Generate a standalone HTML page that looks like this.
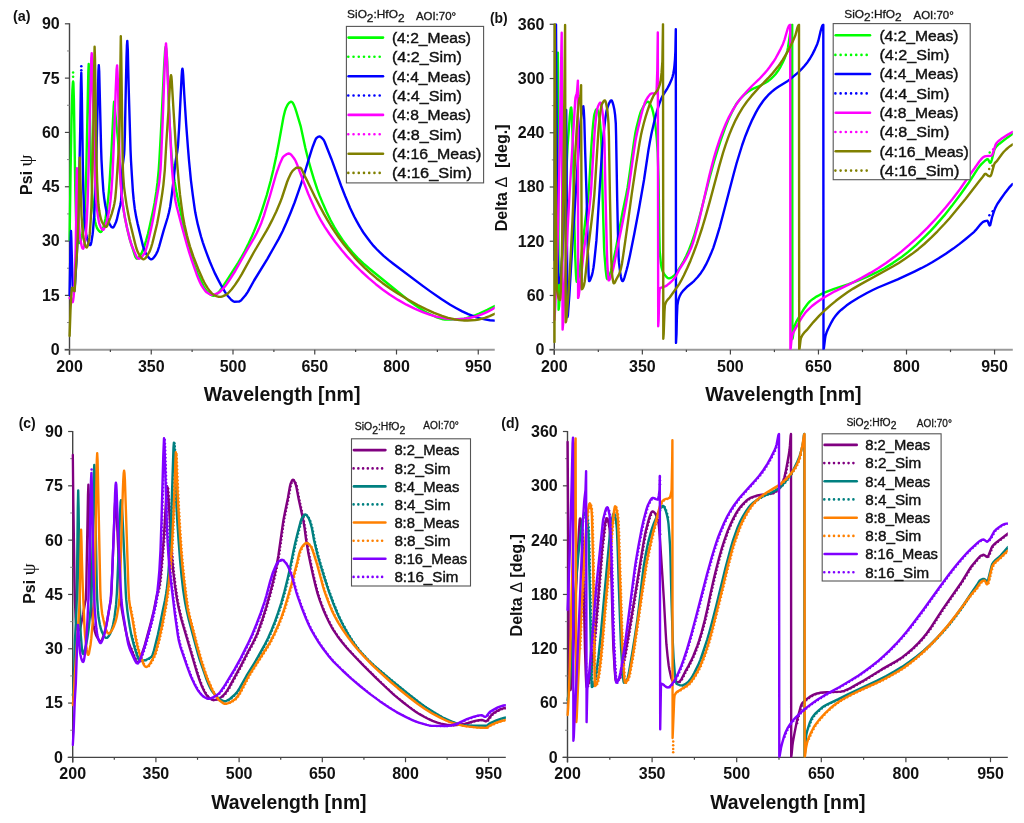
<!DOCTYPE html>
<html><head><meta charset="utf-8"><style>
html,body{margin:0;padding:0;background:#fff;}
svg{display:block;will-change:transform;}
text{font-family:"Liberation Sans", sans-serif;fill:#111;}
</style></head><body>
<svg width="1024" height="823" viewBox="0 0 1024 823">
<rect width="1024" height="823" fill="#fff"/>
<line x1="69.5" y1="23.3" x2="69.5" y2="354.7" stroke="#444" stroke-width="1.4"/>
<line x1="64.5" y1="349.7" x2="494.75" y2="349.7" stroke="#9a9a9a" stroke-width="2.0"/>
<line x1="64.9" y1="349.70" x2="69.5" y2="349.70" stroke="#444" stroke-width="1.2"/>
<line x1="67.0" y1="322.54" x2="69.5" y2="322.54" stroke="#888" stroke-width="1"/>
<text x="59.70" y="355.10" font-size="16" font-weight="bold" text-anchor="end" >0</text>
<line x1="64.9" y1="295.38" x2="69.5" y2="295.38" stroke="#444" stroke-width="1.2"/>
<line x1="67.0" y1="268.23" x2="69.5" y2="268.23" stroke="#888" stroke-width="1"/>
<text x="59.70" y="300.78" font-size="16" font-weight="bold" text-anchor="end" >15</text>
<line x1="64.9" y1="241.07" x2="69.5" y2="241.07" stroke="#444" stroke-width="1.2"/>
<line x1="67.0" y1="213.91" x2="69.5" y2="213.91" stroke="#888" stroke-width="1"/>
<text x="59.70" y="246.47" font-size="16" font-weight="bold" text-anchor="end" >30</text>
<line x1="64.9" y1="186.75" x2="69.5" y2="186.75" stroke="#444" stroke-width="1.2"/>
<line x1="67.0" y1="159.59" x2="69.5" y2="159.59" stroke="#888" stroke-width="1"/>
<text x="59.70" y="192.15" font-size="16" font-weight="bold" text-anchor="end" >45</text>
<line x1="64.9" y1="132.43" x2="69.5" y2="132.43" stroke="#444" stroke-width="1.2"/>
<line x1="67.0" y1="105.27" x2="69.5" y2="105.27" stroke="#888" stroke-width="1"/>
<text x="59.70" y="137.83" font-size="16" font-weight="bold" text-anchor="end" >60</text>
<line x1="64.9" y1="78.12" x2="69.5" y2="78.12" stroke="#444" stroke-width="1.2"/>
<line x1="67.0" y1="50.96" x2="69.5" y2="50.96" stroke="#888" stroke-width="1"/>
<text x="59.70" y="83.52" font-size="16" font-weight="bold" text-anchor="end" >75</text>
<line x1="64.9" y1="23.80" x2="69.5" y2="23.80" stroke="#444" stroke-width="1.2"/>
<text x="59.70" y="29.20" font-size="16" font-weight="bold" text-anchor="end" >90</text>
<line x1="69.50" y1="349.7" x2="69.50" y2="354.5" stroke="#444" stroke-width="1.2"/>
<text x="69.50" y="371.60" font-size="16" font-weight="bold" text-anchor="middle" >200</text>
<line x1="110.38" y1="349.7" x2="110.38" y2="352.09999999999997" stroke="#444" stroke-width="1.2"/>
<line x1="151.25" y1="349.7" x2="151.25" y2="354.5" stroke="#444" stroke-width="1.2"/>
<text x="151.25" y="371.60" font-size="16" font-weight="bold" text-anchor="middle" >350</text>
<line x1="192.12" y1="349.7" x2="192.12" y2="352.09999999999997" stroke="#444" stroke-width="1.2"/>
<line x1="233.00" y1="349.7" x2="233.00" y2="354.5" stroke="#444" stroke-width="1.2"/>
<text x="233.00" y="371.60" font-size="16" font-weight="bold" text-anchor="middle" >500</text>
<line x1="273.88" y1="349.7" x2="273.88" y2="352.09999999999997" stroke="#444" stroke-width="1.2"/>
<line x1="314.75" y1="349.7" x2="314.75" y2="354.5" stroke="#444" stroke-width="1.2"/>
<text x="314.75" y="371.60" font-size="16" font-weight="bold" text-anchor="middle" >650</text>
<line x1="355.62" y1="349.7" x2="355.62" y2="352.09999999999997" stroke="#444" stroke-width="1.2"/>
<line x1="396.50" y1="349.7" x2="396.50" y2="354.5" stroke="#444" stroke-width="1.2"/>
<text x="396.50" y="371.60" font-size="16" font-weight="bold" text-anchor="middle" >800</text>
<line x1="437.38" y1="349.7" x2="437.38" y2="352.09999999999997" stroke="#444" stroke-width="1.2"/>
<line x1="478.25" y1="349.7" x2="478.25" y2="354.5" stroke="#444" stroke-width="1.2"/>
<text x="478.25" y="371.60" font-size="16" font-weight="bold" text-anchor="middle" >950</text>
<clipPath id="clipa"><rect x="68.0" y="22.8" width="426.75" height="326.9"/></clipPath>
<g clip-path="url(#clipa)">
<path d="M69.6,240.0 L70.6,170.0 L71.5,120.0 L72.0,102.6 L72.4,90.0 L72.9,82.5 L73.1,81.5 L73.4,83.0 L73.9,100.0 L75.3,190.0 L76.0,217.3 L76.4,226.7 L76.8,232.0 L77.9,239.2 L78.6,242.0 L78.9,242.7 L79.3,243.0 L79.7,242.8 L80.1,242.2 L80.5,241.4 L81.2,239.0 L82.0,236.0 L82.7,232.3 L83.8,223.3 L84.5,215.0 L84.9,209.2 L85.6,192.1 L86.3,170.0 L88.3,72.4 L88.7,64.0 L89.1,72.5 L90.8,158.4 L91.6,179.3 L92.3,195.0 L93.1,206.2 L93.5,210.0 L94.5,217.7 L95.2,221.8 L96.0,225.0 L96.7,227.2 L97.0,228.0 L98.1,229.8 L99.2,231.2 L99.9,231.8 L100.6,232.0 L101.0,231.9 L101.7,231.1 L102.4,229.7 L103.5,227.0 L104.2,224.5 L105.4,218.9 L106.9,209.6 L108.3,197.6 L109.0,190.0 L109.7,180.6 L111.5,150.0 L113.7,106.4 L114.1,101.7 L114.5,103.6 L115.2,112.0 L118.0,140.0 L120.2,175.0 L121.9,196.5 L123.0,206.1 L124.9,217.6 L127.5,229.9 L129.6,238.6 L131.4,244.7 L134.7,254.9 L135.4,256.9 L136.2,258.2 L136.5,258.6 L136.9,258.7 L137.6,258.5 L138.3,257.9 L139.1,257.0 L140.8,254.5 L141.6,253.2 L142.6,250.8 L143.7,248.1 L146.1,240.6 L147.9,234.1 L149.6,226.7 L152.8,212.0 L154.6,202.9 L156.3,191.9 L157.5,182.4 L158.7,170.0 L159.4,159.5 L160.9,132.5 L164.1,66.6 L165.2,49.2 L165.6,47.0 L166.0,48.2 L166.4,51.1 L166.8,55.0 L167.2,61.0 L169.6,121.4 L170.4,136.2 L171.4,152.5 L172.5,165.0 L173.6,174.1 L174.6,181.5 L176.4,192.0 L177.5,197.5 L180.0,209.0 L182.9,223.3 L184.4,229.7 L186.8,239.6 L188.9,247.6 L191.0,254.9 L192.8,260.5 L195.3,267.5 L197.8,273.7 L200.3,279.3 L203.8,286.5 L205.2,289.0 L206.3,290.5 L208.4,292.7 L210.2,294.3 L211.7,295.3 L212.8,295.7 L213.9,295.7 L214.6,295.5 L215.7,294.8 L217.2,293.6 L219.4,291.4 L220.8,289.6 L228.2,278.3 L233.9,269.5 L238.1,262.8 L241.6,256.9 L244.7,251.2 L247.9,244.9 L251.1,238.1 L253.9,231.6 L258.9,219.2 L262.4,208.9 L266.8,195.0 L270.6,181.0 L273.4,169.5 L276.3,156.0 L278.9,142.4 L282.8,120.7 L283.5,117.0 L284.9,111.2 L286.0,108.0 L287.1,105.7 L287.8,104.4 L288.5,103.5 L289.6,102.4 L290.4,101.9 L291.1,101.7 L291.5,101.8 L292.2,102.2 L292.9,103.1 L293.6,104.3 L295.0,107.6 L296.4,111.8 L300.8,126.7 L305.3,147.7 L308.2,159.5 L311.1,169.9 L313.9,179.2 L317.2,189.2 L319.5,195.4 L323.1,204.1 L326.7,212.2 L330.6,220.3 L334.2,226.9 L338.2,233.5 L342.9,240.4 L347.9,247.0 L352.6,252.6 L357.5,257.9 L363.6,263.6 L369.2,268.5 L381.5,278.5 L403.4,296.3 L408.9,300.7 L418.6,307.6 L424.3,311.3 L427.1,312.8 L433.9,316.0 L436.8,317.3 L439.3,318.2 L441.4,318.9 L443.2,319.3 L445.0,319.5 L446.8,319.6 L451.7,319.5 L457.0,319.2 L464.0,318.6 L466.4,318.2 L470.3,317.0 L475.6,315.0 L479.2,313.5 L487.3,309.8 L494.7,306.0" fill="none" stroke="#00ff00" stroke-width="2.4" stroke-linejoin="round" stroke-linecap="round"/>
<path d="M69.6,295.0 L70.3,255.0 L70.7,239.2 L71.0,231.0 L71.3,237.7 L72.6,285.0 L73.3,290.1 L73.7,291.5 L74.0,292.0 L74.4,290.7 L75.1,282.6 L76.5,260.1 L77.7,235.9 L78.8,200.0 L80.2,130.0 L80.9,83.5 L81.3,72.8 L81.8,94.1 L82.8,163.3 L83.3,190.0 L84.2,212.3 L84.6,219.8 L85.0,225.0 L85.7,231.1 L86.4,235.6 L87.1,238.8 L88.3,242.2 L89.1,243.9 L89.5,244.5 L89.9,245.0 L90.3,245.1 L90.7,244.7 L91.0,243.6 L91.4,241.9 L92.5,235.0 L92.9,231.8 L94.1,216.6 L94.9,202.8 L96.3,160.0 L98.1,85.0 L98.4,71.2 L98.8,65.1 L99.2,71.4 L101.1,148.2 L101.5,160.0 L102.3,175.1 L103.4,191.2 L104.2,198.1 L105.3,205.5 L107.6,217.1 L108.7,222.0 L109.5,224.0 L110.6,225.7 L111.3,226.7 L112.1,227.3 L112.4,227.4 L112.8,227.5 L113.2,227.4 L113.5,227.1 L114.2,226.1 L114.9,224.6 L116.0,222.0 L116.8,219.7 L119.0,210.0 L120.3,205.4 L120.7,203.3 L121.1,200.4 L121.5,192.4 L122.3,170.0 L122.7,165.7 L124.1,154.4 L124.4,149.5 L124.9,134.0 L125.8,88.3 L126.5,57.7 L126.9,45.7 L127.3,40.9 L127.8,49.7 L128.7,88.3 L130.5,149.5 L131.0,160.8 L131.9,175.8 L132.9,191.4 L133.7,199.9 L134.8,208.9 L136.2,217.1 L137.6,223.6 L142.9,245.6 L144.0,249.2 L145.0,251.9 L147.5,256.0 L148.6,257.4 L149.6,258.5 L150.7,259.2 L151.4,259.3 L152.1,259.1 L153.2,258.3 L154.6,256.6 L156.3,253.8 L157.0,252.4 L157.8,250.7 L159.2,246.3 L163.6,230.7 L167.5,218.0 L169.0,212.3 L170.1,207.0 L170.8,202.3 L171.9,194.0 L173.7,179.0 L175.4,162.7 L176.2,157.8 L177.2,152.1 L178.0,145.7 L179.1,127.8 L181.6,76.6 L182.0,70.8 L182.4,68.6 L182.8,70.4 L183.2,75.2 L184.3,95.0 L186.2,124.6 L187.9,147.1 L189.1,161.5 L190.9,180.1 L192.8,195.2 L194.6,208.2 L195.3,212.6 L196.4,218.1 L197.8,224.4 L199.6,231.4 L201.0,236.5 L202.8,242.3 L204.6,247.6 L206.7,253.4 L209.9,261.7 L212.4,267.6 L215.2,273.9 L218.1,279.6 L220.9,284.9 L224.8,291.7 L226.2,293.9 L227.6,295.8 L230.8,299.3 L232.2,300.6 L233.3,301.3 L234.3,301.7 L237.9,301.6 L239.0,301.5 L239.7,301.3 L240.5,300.8 L241.6,299.8 L245.3,295.5 L247.8,291.8 L254.1,280.5 L267.4,258.8 L274.4,246.5 L278.7,238.9 L282.6,231.2 L286.4,222.8 L290.6,212.7 L294.6,202.5 L297.8,193.4 L301.1,183.8 L304.9,172.0 L309.0,158.4 L311.5,150.4 L312.9,146.2 L315.1,140.5 L315.8,139.0 L316.5,138.0 L318.0,136.9 L318.8,136.6 L319.5,136.5 L319.9,136.5 L320.6,136.9 L322.2,138.2 L323.7,140.0 L324.7,142.0 L331.5,159.2 L341.0,185.5 L345.0,195.8 L350.0,207.8 L354.3,216.7 L356.8,221.4 L359.3,225.8 L361.8,230.0 L363.9,233.3 L367.2,237.8 L370.4,242.0 L373.6,245.9 L376.5,249.0 L379.7,252.2 L383.6,255.8 L389.0,260.4 L393.3,263.7 L422.7,285.9 L431.0,291.9 L441.3,299.1 L450.2,304.8 L455.9,308.0 L462.2,311.4 L468.2,314.1 L473.4,316.2 L479.3,318.1 L484.8,319.4 L490.0,320.2 L494.7,320.6" fill="none" stroke="#0000ff" stroke-width="2.4" stroke-linejoin="round" stroke-linecap="round"/>
<path d="M69.6,298.0 L70.3,298.4 L71.0,299.0 L71.4,299.7 L72.3,301.8 L72.7,302.2 L73.1,300.7 L73.6,296.9 L74.0,292.0 L74.4,285.0 L75.3,262.0 L75.7,246.9 L76.1,225.0 L76.5,185.0 L76.9,168.2 L77.4,178.0 L78.3,212.0 L79.2,227.8 L79.6,233.3 L80.0,237.0 L80.8,241.6 L81.5,245.3 L82.2,247.8 L82.6,248.5 L83.0,248.7 L83.4,248.4 L83.7,247.6 L84.4,244.6 L85.5,238.0 L85.9,234.7 L86.9,217.5 L87.7,200.3 L88.8,160.0 L91.0,69.8 L91.3,57.9 L91.7,53.1 L92.2,61.4 L94.2,147.3 L94.5,160.0 L95.3,181.4 L96.1,197.6 L96.5,203.0 L97.2,210.5 L98.0,216.6 L98.8,221.1 L99.1,222.8 L99.5,224.0 L100.5,226.7 L101.2,228.2 L102.0,229.2 L102.7,229.8 L103.0,229.9 L103.4,229.8 L104.1,228.8 L104.8,227.2 L106.5,221.9 L108.0,216.6 L109.4,209.2 L110.4,201.4 L111.5,189.8 L112.6,173.2 L114.2,135.0 L115.7,90.0 L116.6,69.5 L117.1,65.4 L117.5,71.9 L118.0,85.0 L119.5,157.2 L119.9,170.0 L120.7,184.0 L121.1,189.1 L121.9,197.0 L123.4,208.8 L124.9,217.8 L127.1,228.3 L129.6,238.3 L131.0,243.1 L132.1,246.3 L135.8,255.1 L136.9,257.1 L137.6,258.1 L138.3,258.6 L139.1,258.7 L140.2,258.2 L141.3,257.4 L142.7,255.8 L144.2,253.8 L144.9,252.5 L145.6,250.8 L147.1,246.0 L149.2,237.0 L151.8,225.5 L153.2,218.6 L158.2,189.3 L159.4,181.3 L160.5,170.0 L161.0,161.0 L162.7,120.6 L164.6,68.7 L165.5,49.2 L166.0,43.4 L166.5,49.2 L167.4,68.9 L168.9,107.9 L171.7,164.1 L172.1,170.0 L173.2,183.0 L173.9,190.0 L175.0,198.0 L175.7,202.0 L176.8,207.0 L181.8,226.3 L187.1,245.4 L189.2,252.4 L191.3,259.0 L196.6,274.2 L198.4,278.7 L199.8,282.0 L201.5,285.4 L203.4,288.4 L205.2,290.9 L206.6,292.3 L208.5,293.5 L209.9,294.3 L211.0,294.7 L212.1,294.9 L213.6,294.7 L215.4,294.2 L217.9,293.2 L219.3,292.3 L220.8,291.0 L222.2,289.6 L224.7,286.7 L226.2,284.9 L229.8,279.5 L235.2,271.0 L246.5,250.9 L254.3,237.6 L256.8,233.0 L258.9,228.6 L261.4,222.7 L263.9,215.6 L270.2,195.0 L275.6,176.0 L277.0,171.6 L280.2,162.9 L282.0,158.9 L282.7,157.6 L283.4,156.7 L284.9,155.4 L286.3,154.4 L287.7,153.7 L288.8,153.5 L289.5,153.6 L290.2,154.0 L291.6,155.2 L293.4,157.5 L294.8,159.5 L295.5,160.8 L297.0,164.2 L299.6,171.3 L308.2,193.7 L310.8,199.7 L314.3,207.6 L317.5,214.2 L320.7,220.1 L324.9,227.1 L329.5,234.0 L335.1,241.7 L341.8,250.3 L347.2,256.6 L354.3,264.3 L361.5,271.5 L368.7,278.2 L375.8,284.2 L382.9,289.7 L389.6,294.5 L398.1,299.9 L406.5,304.7 L414.6,308.7 L422.7,312.2 L429.6,314.7 L436.2,316.6 L443.9,318.2 L450.9,319.0 L455.9,319.2 L459.7,319.1 L464.7,318.7 L469.2,318.0 L476.0,316.4 L481.7,314.4 L485.2,312.9 L488.4,311.4 L491.5,309.7 L494.7,307.8" fill="none" stroke="#ff00ff" stroke-width="2.4" stroke-linejoin="round" stroke-linecap="round"/>
<path d="M69.6,336.0 L70.5,310.0 L71.3,294.9 L71.7,289.6 L72.1,287.6 L72.5,287.8 L73.2,289.0 L74.1,290.8 L74.5,291.2 L74.9,287.2 L75.8,270.0 L76.9,253.6 L77.7,237.5 L78.5,215.0 L79.7,157.6 L81.5,215.0 L82.3,227.3 L83.1,235.5 L83.9,239.9 L85.0,244.7 L85.8,246.7 L86.2,247.3 L86.6,247.5 L87.0,247.2 L87.4,246.5 L87.8,245.3 L88.6,242.0 L89.4,237.2 L89.8,233.2 L90.6,221.9 L91.4,206.9 L92.5,170.0 L93.6,110.0 L94.1,71.1 L94.6,46.8 L95.0,58.6 L96.4,154.0 L96.8,170.0 L97.2,182.2 L98.1,200.0 L98.5,205.0 L99.2,210.3 L99.9,214.6 L101.0,219.2 L102.0,222.0 L103.9,225.2 L104.6,226.1 L105.4,226.7 L106.1,226.9 L106.5,226.8 L106.9,226.3 L107.6,224.9 L110.2,218.1 L111.8,213.6 L113.6,207.1 L114.3,204.0 L115.0,200.0 L115.4,196.8 L116.2,187.7 L118.5,153.1 L119.2,136.7 L119.6,125.0 L120.8,36.3 L121.2,52.3 L122.6,153.8 L122.9,170.0 L123.3,176.8 L124.0,186.6 L125.2,195.6 L126.6,205.1 L128.1,213.3 L129.8,221.7 L134.9,242.7 L136.3,248.0 L137.7,251.9 L139.5,255.2 L140.6,256.9 L141.7,258.3 L142.4,258.9 L143.1,259.3 L143.5,259.3 L144.2,259.1 L145.0,258.6 L146.1,257.4 L147.5,255.2 L149.4,251.9 L150.1,250.3 L151.2,247.2 L152.3,243.5 L153.7,237.9 L157.1,223.7 L158.9,214.2 L160.8,202.9 L162.3,193.1 L163.4,184.8 L164.8,170.0 L166.3,143.3 L168.5,110.0 L169.9,85.1 L170.6,76.5 L171.0,75.2 L171.4,76.5 L171.7,80.0 L173.5,110.0 L175.7,144.3 L177.2,164.0 L179.2,186.9 L180.0,194.7 L181.5,206.2 L182.9,216.1 L184.4,224.3 L186.9,235.3 L188.3,240.6 L190.0,246.6 L191.8,252.0 L193.5,256.9 L198.1,268.7 L202.4,278.6 L204.2,282.2 L206.0,285.5 L207.8,288.4 L209.2,290.3 L211.4,292.9 L212.9,294.3 L214.0,295.0 L215.8,295.8 L217.2,296.4 L218.7,296.7 L219.7,296.9 L220.8,296.8 L221.9,296.6 L223.1,296.2 L226.4,294.6 L228.1,293.2 L231.7,289.3 L235.0,284.9 L238.6,279.5 L241.8,274.2 L253.7,252.5 L266.3,231.1 L268.8,226.6 L272.0,220.4 L276.3,211.5 L280.2,202.3 L282.0,197.5 L287.1,182.0 L288.5,178.5 L291.1,173.1 L292.6,170.9 L294.5,169.1 L295.7,168.2 L296.8,167.7 L300.0,167.7 L300.4,167.8 L300.8,168.1 L301.1,168.5 L301.9,169.7 L304.5,175.6 L307.5,181.4 L314.9,196.8 L319.6,205.9 L323.9,213.9 L327.5,220.1 L331.0,226.0 L335.0,232.1 L338.9,237.7 L343.9,244.5 L349.0,250.8 L354.3,257.1 L359.7,262.9 L364.7,267.8 L370.7,273.4 L376.4,278.2 L382.4,282.9 L390.1,288.4 L398.2,293.7 L407.9,299.5 L417.7,305.0 L426.4,309.4 L434.1,312.9 L442.0,315.9 L448.1,317.8 L454.1,319.2 L459.4,320.1 L462.2,320.4 L464.3,320.5 L467.6,320.5 L475.1,320.0 L478.6,319.5 L482.2,318.7 L484.8,317.9 L489.6,316.2 L494.7,313.8" fill="none" stroke="#808000" stroke-width="2.4" stroke-linejoin="round" stroke-linecap="round"/>
<circle cx="73.1" cy="72.4" r="1.25" fill="#00ff00"/>
<circle cx="73.1" cy="76.8" r="1.25" fill="#00ff00"/>
<circle cx="81.3" cy="66.3" r="1.25" fill="#0000ff"/>
<circle cx="81.3" cy="70.3" r="1.25" fill="#0000ff"/>
</g>
<line x1="554.3" y1="23.8" x2="554.3" y2="354.7" stroke="#444" stroke-width="1.4"/>
<line x1="549.3" y1="349.7" x2="1012.8" y2="349.7" stroke="#9a9a9a" stroke-width="2.0"/>
<line x1="549.6999999999999" y1="349.70" x2="554.3" y2="349.70" stroke="#444" stroke-width="1.2"/>
<line x1="551.8" y1="322.58" x2="554.3" y2="322.58" stroke="#888" stroke-width="1"/>
<text x="544.50" y="355.10" font-size="16" font-weight="bold" text-anchor="end" >0</text>
<line x1="549.6999999999999" y1="295.47" x2="554.3" y2="295.47" stroke="#444" stroke-width="1.2"/>
<line x1="551.8" y1="268.35" x2="554.3" y2="268.35" stroke="#888" stroke-width="1"/>
<text x="544.50" y="300.87" font-size="16" font-weight="bold" text-anchor="end" >60</text>
<line x1="549.6999999999999" y1="241.23" x2="554.3" y2="241.23" stroke="#444" stroke-width="1.2"/>
<line x1="551.8" y1="214.12" x2="554.3" y2="214.12" stroke="#888" stroke-width="1"/>
<text x="544.50" y="246.63" font-size="16" font-weight="bold" text-anchor="end" >120</text>
<line x1="549.6999999999999" y1="187.00" x2="554.3" y2="187.00" stroke="#444" stroke-width="1.2"/>
<line x1="551.8" y1="159.88" x2="554.3" y2="159.88" stroke="#888" stroke-width="1"/>
<text x="544.50" y="192.40" font-size="16" font-weight="bold" text-anchor="end" >180</text>
<line x1="549.6999999999999" y1="132.77" x2="554.3" y2="132.77" stroke="#444" stroke-width="1.2"/>
<line x1="551.8" y1="105.65" x2="554.3" y2="105.65" stroke="#888" stroke-width="1"/>
<text x="544.50" y="138.17" font-size="16" font-weight="bold" text-anchor="end" >240</text>
<line x1="549.6999999999999" y1="78.53" x2="554.3" y2="78.53" stroke="#444" stroke-width="1.2"/>
<line x1="551.8" y1="51.42" x2="554.3" y2="51.42" stroke="#888" stroke-width="1"/>
<text x="544.50" y="83.93" font-size="16" font-weight="bold" text-anchor="end" >300</text>
<line x1="549.6999999999999" y1="24.30" x2="554.3" y2="24.30" stroke="#444" stroke-width="1.2"/>
<text x="544.50" y="29.70" font-size="16" font-weight="bold" text-anchor="end" >360</text>
<line x1="554.30" y1="349.7" x2="554.30" y2="354.5" stroke="#444" stroke-width="1.2"/>
<text x="554.30" y="371.60" font-size="16" font-weight="bold" text-anchor="middle" >200</text>
<line x1="598.32" y1="349.7" x2="598.32" y2="352.09999999999997" stroke="#444" stroke-width="1.2"/>
<line x1="642.35" y1="349.7" x2="642.35" y2="354.5" stroke="#444" stroke-width="1.2"/>
<text x="642.35" y="371.60" font-size="16" font-weight="bold" text-anchor="middle" >350</text>
<line x1="686.38" y1="349.7" x2="686.38" y2="352.09999999999997" stroke="#444" stroke-width="1.2"/>
<line x1="730.40" y1="349.7" x2="730.40" y2="354.5" stroke="#444" stroke-width="1.2"/>
<text x="730.40" y="371.60" font-size="16" font-weight="bold" text-anchor="middle" >500</text>
<line x1="774.42" y1="349.7" x2="774.42" y2="352.09999999999997" stroke="#444" stroke-width="1.2"/>
<line x1="818.45" y1="349.7" x2="818.45" y2="354.5" stroke="#444" stroke-width="1.2"/>
<text x="818.45" y="371.60" font-size="16" font-weight="bold" text-anchor="middle" >650</text>
<line x1="862.47" y1="349.7" x2="862.47" y2="352.09999999999997" stroke="#444" stroke-width="1.2"/>
<line x1="906.50" y1="349.7" x2="906.50" y2="354.5" stroke="#444" stroke-width="1.2"/>
<text x="906.50" y="371.60" font-size="16" font-weight="bold" text-anchor="middle" >800</text>
<line x1="950.52" y1="349.7" x2="950.52" y2="352.09999999999997" stroke="#444" stroke-width="1.2"/>
<line x1="994.55" y1="349.7" x2="994.55" y2="354.5" stroke="#444" stroke-width="1.2"/>
<text x="994.55" y="371.60" font-size="16" font-weight="bold" text-anchor="middle" >950</text>
<clipPath id="clipb"><rect x="552.8" y="23.3" width="460.0" height="326.4"/></clipPath>
<g clip-path="url(#clipb)">
<path d="M554.5,250.0 L555.3,215.0 L556.5,150.0 L557.4,71.9 L557.9,52.8 L558.3,150.0 L558.6,309.7 L559.1,306.1 L560.0,290.0 L561.6,266.5 L562.4,253.4 L567.6,145.6 L569.8,116.2 L570.5,109.8 L570.8,108.0 L571.2,107.4 L571.6,109.9 L571.9,116.6 L573.0,150.0 L574.3,220.0 L575.1,253.6 L575.9,273.0 L576.3,279.3 L576.7,281.9 L577.1,281.7 L577.4,281.1 L578.5,278.0 L578.9,276.6 L579.5,272.1 L585.3,221.0 L588.1,199.4 L589.2,184.9 L591.4,146.3 L592.5,131.0 L593.3,122.6 L594.1,116.0 L594.5,114.0 L595.6,110.6 L596.0,109.8 L596.4,109.3 L596.8,109.1 L597.2,109.3 L597.5,109.9 L597.9,110.9 L598.6,113.6 L599.7,119.4 L600.4,126.8 L600.8,132.0 L601.2,138.3 L601.6,149.2 L602.7,199.4 L604.1,248.0 L604.5,255.0 L605.7,269.9 L606.5,276.5 L606.9,278.4 L607.3,279.0 L607.7,278.8 L608.1,278.4 L608.8,276.9 L610.4,273.0 L611.1,270.6 L612.9,263.0 L615.8,249.3 L622.6,211.9 L626.2,194.9 L627.6,187.5 L629.3,175.8 L634.0,141.7 L635.4,132.8 L636.5,127.5 L639.1,117.2 L640.2,113.5 L641.3,110.5 L643.5,106.4 L645.3,103.5 L646.1,102.7 L646.8,102.1 L647.5,101.7 L647.9,101.7 L648.3,101.8 L649.0,102.3 L649.7,103.4 L650.4,104.7 L651.9,107.9 L653.0,111.8 L654.1,117.2 L655.3,124.3 L656.0,130.7 L656.8,139.0 L657.7,152.3 L658.6,180.0 L659.3,233.5 L659.7,251.0 L660.8,262.5 L661.5,267.2 L662.3,270.2 L663.0,272.0 L664.1,273.9 L665.9,276.4 L667.3,277.7 L668.0,278.1 L668.7,278.3 L669.5,278.3 L670.2,278.1 L671.3,277.6 L672.4,276.9 L674.3,275.4 L675.4,274.4 L677.1,272.0 L680.7,266.2 L683.7,261.1 L686.2,256.0 L689.1,249.5 L691.6,243.0 L694.2,235.5 L698.2,221.8 L701.0,211.3 L710.0,176.2 L714.0,161.8 L717.3,150.8 L720.5,140.8 L725.1,127.9 L728.2,120.0 L731.4,113.2 L734.6,107.0 L736.0,104.5 L737.4,102.4 L740.6,98.5 L742.4,96.6 L744.5,94.6 L747.6,92.0 L750.8,89.9 L753.3,88.6 L758.7,86.3 L760.9,85.3 L765.5,82.7 L768.4,80.9 L770.9,78.9 L773.4,76.5 L775.9,73.7 L778.0,70.8 L780.5,66.8 L782.6,62.7 L784.8,57.9 L786.9,52.3 L787.3,51.1 L788.0,47.5 L790.8,28.8 L791.5,25.9 L791.8,25.1 L792.2,24.8 L792.4,339.0 L792.8,337.6 L793.6,330.5 L794.0,328.0 L795.1,324.6 L796.1,322.1 L797.2,320.1 L801.2,313.4 L804.4,308.2 L807.3,304.3 L808.7,302.6 L810.1,301.1 L813.0,298.9 L816.5,296.6 L820.1,294.7 L824.3,292.7 L834.2,288.8 L847.9,284.4 L856.7,281.2 L866.9,277.0 L876.0,272.7 L884.4,268.2 L892.8,263.1 L900.9,257.6 L907.9,252.1 L916.3,244.8 L925.9,235.7 L930.4,231.1 L935.0,226.1 L944.3,215.4 L951.7,206.1 L960.2,194.8 L968.9,182.5 L977.3,169.4 L979.4,166.5 L981.2,164.4 L985.2,160.5 L986.3,159.7 L987.4,159.2 L987.8,159.2 L988.2,159.5 L989.8,162.6 L990.2,162.9 L990.6,162.7 L991.0,162.1 L991.7,160.1 L994.3,150.0 L995.1,148.3 L996.5,146.4 L998.0,144.9 L999.4,143.7 L1007.6,137.4 L1012.5,134.0" fill="none" stroke="#00ff00" stroke-width="2.4" stroke-linejoin="round" stroke-linecap="round"/>
<path d="M554.5,260.0 L555.0,134.1 L555.4,60.0 L556.0,24.5 L557.3,230.0 L558.1,275.7 L558.5,283.0 L558.9,282.7 L559.3,282.0 L559.7,281.0 L560.5,278.0 L560.9,275.7 L561.6,267.2 L562.6,247.6 L563.4,229.9 L564.2,202.5 L565.0,170.0 L565.8,121.8 L566.2,110.0 L566.6,163.7 L567.1,263.3 L567.5,317.0 L567.9,315.3 L568.2,311.0 L569.4,294.7 L572.7,238.9 L579.9,130.7 L580.6,121.3 L581.0,118.0 L582.1,110.0 L582.5,108.0 L582.9,106.7 L583.3,106.2 L583.8,110.6 L584.3,120.0 L585.2,152.8 L586.7,199.4 L587.8,250.0 L588.7,276.1 L589.1,281.1 L589.5,281.0 L589.8,280.6 L590.5,279.2 L592.0,275.0 L592.7,271.9 L593.5,267.5 L594.2,262.0 L595.6,248.7 L596.4,240.7 L597.1,230.0 L601.2,164.4 L602.3,148.5 L603.7,132.7 L605.2,119.6 L606.3,112.2 L606.6,110.5 L607.4,107.9 L608.5,104.8 L609.6,102.3 L610.3,101.1 L610.7,100.7 L611.0,100.5 L611.4,100.4 L611.8,100.6 L612.1,101.2 L612.5,102.2 L613.3,104.8 L614.4,109.8 L615.1,114.9 L615.8,123.7 L616.1,135.8 L617.2,199.4 L617.9,231.3 L618.6,256.6 L619.0,262.9 L619.4,266.2 L620.1,271.9 L620.8,276.3 L621.5,279.4 L621.9,280.3 L622.2,280.9 L622.6,281.1 L623.0,280.9 L623.7,279.6 L624.5,277.3 L626.7,269.5 L627.8,265.2 L630.0,255.2 L634.3,233.7 L639.0,208.8 L644.0,180.0 L648.5,149.8 L650.0,141.2 L651.4,134.1 L654.2,121.8 L656.0,114.8 L657.4,109.8 L659.2,104.2 L660.6,100.3 L661.7,97.8 L663.1,95.0 L667.4,88.3 L669.2,84.9 L671.8,78.9 L672.6,76.6 L673.3,73.5 L674.1,69.0 L674.5,65.1 L675.0,59.3 L675.4,51.0 L675.8,29.3 L676.0,342.9 L676.5,333.9 L676.9,316.5 L677.4,305.3 L678.1,301.0 L678.9,298.2 L679.6,296.3 L680.7,294.2 L681.8,292.4 L683.3,290.6 L687.7,286.2 L692.4,282.5 L694.2,280.8 L697.7,277.0 L700.9,272.9 L703.4,269.2 L705.9,264.7 L708.4,259.4 L711.0,253.6 L713.2,248.1 L714.6,243.9 L716.8,236.8 L719.8,226.8 L723.0,214.8 L733.6,174.2 L736.5,163.5 L739.1,155.0 L742.2,145.0 L745.5,135.7 L748.7,127.7 L752.3,119.6 L755.8,112.6 L757.9,108.9 L760.0,105.5 L763.5,100.5 L765.7,97.9 L768.1,95.2 L771.3,92.1 L774.8,89.3 L778.0,87.1 L787.8,80.9 L790.3,79.1 L794.1,75.9 L798.0,72.6 L801.5,69.2 L804.6,65.7 L807.5,62.2 L810.0,58.5 L812.5,54.1 L815.0,49.1 L817.2,44.2 L818.3,40.9 L820.4,31.9 L821.5,28.0 L822.2,26.0 L822.9,24.9 L823.3,24.8 L823.5,349.2 L823.9,348.1 L825.1,338.4 L825.5,336.0 L826.6,332.3 L827.8,329.5 L831.4,322.3 L833.2,319.2 L834.6,317.1 L836.0,315.2 L837.4,313.6 L839.2,311.7 L841.4,309.7 L846.4,305.6 L851.1,302.3 L858.8,297.5 L866.9,293.0 L872.8,290.0 L878.1,287.5 L897.7,279.3 L914.9,271.3 L921.2,268.2 L926.9,265.2 L932.6,262.0 L938.7,258.3 L945.8,253.7 L953.3,248.6 L959.6,243.9 L966.3,238.5 L970.6,234.9 L974.2,231.8 L975.9,229.9 L980.5,224.3 L981.9,222.9 L983.3,221.8 L984.7,221.2 L986.2,220.9 L987.3,220.8 L987.7,221.1 L988.0,221.7 L989.1,224.6 L989.4,225.2 L989.8,225.5 L990.2,225.1 L990.5,224.0 L992.0,217.5 L993.8,211.9 L995.2,208.1 L996.7,205.2 L998.2,202.7 L1000.4,199.5 L1005.4,192.4 L1008.9,187.9 L1012.5,184.0" fill="none" stroke="#0000ff" stroke-width="2.4" stroke-linejoin="round" stroke-linecap="round"/>
<path d="M554.5,320.0 L555.2,306.6 L556.3,280.5 L557.4,248.7 L558.1,223.0 L559.5,160.0 L561.4,46.4 L561.7,32.7 L562.6,329.6 L563.1,324.1 L564.0,300.0 L567.4,233.3 L569.5,194.8 L574.8,107.1 L575.1,101.4 L575.5,97.7 L575.9,96.0 L576.6,93.8 L577.0,92.0 L577.9,80.7 L578.1,297.9 L578.5,297.0 L578.9,294.7 L581.1,276.1 L584.0,250.0 L588.1,219.4 L589.9,203.2 L590.7,195.2 L591.4,185.1 L594.3,137.1 L595.0,127.5 L596.1,117.1 L596.8,111.5 L597.5,108.0 L598.2,105.9 L599.0,104.2 L599.8,103.0 L600.1,102.7 L600.5,102.6 L600.9,103.1 L601.3,104.6 L602.5,112.0 L603.3,119.1 L604.1,131.0 L604.5,142.8 L605.6,199.4 L606.9,251.9 L607.3,262.9 L608.0,274.9 L608.4,278.9 L608.7,280.4 L609.1,280.3 L609.8,279.2 L610.5,277.4 L612.4,271.9 L613.4,267.9 L614.8,261.3 L617.6,246.7 L622.9,221.0 L625.8,205.2 L628.8,187.8 L633.7,152.6 L635.4,141.4 L636.1,137.5 L637.9,129.1 L641.2,115.1 L643.0,108.5 L644.7,103.1 L646.2,99.8 L648.0,97.0 L649.8,94.6 L650.5,94.0 L651.3,93.6 L652.0,93.4 L656.2,93.4 L656.6,90.2 L657.3,70.0 L657.8,32.4 L658.2,326.2 L658.6,320.4 L659.3,294.7 L659.7,288.6 L660.4,288.0 L661.2,287.6 L664.5,286.7 L666.0,285.9 L667.4,284.9 L669.2,283.5 L671.0,281.9 L672.9,280.0 L674.7,277.9 L676.1,275.7 L680.0,268.3 L684.0,262.0 L685.9,258.9 L688.8,253.3 L691.3,247.6 L692.7,243.7 L693.8,240.2 L697.9,225.4 L700.1,216.0 L709.3,175.8 L711.5,167.0 L714.0,157.6 L716.9,147.8 L719.8,139.1 L722.6,131.5 L725.8,123.8 L728.9,117.0 L732.5,110.5 L736.0,104.8 L739.6,99.8 L743.1,95.5 L747.6,90.5 L751.9,86.0 L759.1,79.2 L764.5,73.4 L767.0,70.5 L769.5,67.3 L773.4,61.8 L775.9,57.8 L778.3,53.4 L780.8,48.6 L782.9,44.2 L784.4,40.1 L787.6,29.0 L788.7,26.3 L789.5,25.2 L789.8,24.9 L790.2,24.8 L790.4,349.2 L790.8,347.4 L791.6,338.9 L792.0,336.0 L793.1,332.8 L798.6,322.9 L801.8,317.6 L805.0,313.1 L806.4,311.4 L808.2,309.6 L812.0,306.0 L815.9,303.0 L820.5,299.8 L825.8,296.5 L834.9,291.3 L848.6,284.7 L861.6,277.9 L870.4,272.9 L878.1,268.2 L886.1,262.9 L894.2,257.1 L901.6,251.4 L908.9,245.2 L918.4,236.6 L927.6,227.6 L936.3,218.2 L945.8,207.3 L952.5,199.0 L959.9,189.2 L970.4,174.0 L974.6,168.3 L979.3,161.5 L981.5,158.9 L983.2,157.2 L984.7,156.4 L986.1,156.1 L990.7,155.7 L991.4,155.6 L991.8,155.4 L992.2,154.8 L992.9,153.1 L995.5,144.8 L996.3,143.4 L997.0,142.5 L998.9,140.7 L1001.0,139.1 L1007.9,134.6 L1012.5,132.0" fill="none" stroke="#ff00ff" stroke-width="2.4" stroke-linejoin="round" stroke-linecap="round"/>
<path d="M554.5,342.0 L554.8,24.2 L555.5,150.0 L556.2,242.6 L556.6,275.6 L557.0,290.0 L557.8,294.6 L558.5,297.7 L559.2,299.4 L559.6,299.9 L560.0,300.0 L560.4,297.7 L560.8,291.3 L561.1,281.4 L561.9,253.3 L563.0,200.0 L563.8,146.9 L565.1,24.9 L565.7,322.3 L566.1,321.3 L566.5,318.6 L566.9,314.6 L568.7,290.1 L569.8,272.1 L572.4,222.5 L575.3,153.3 L576.4,134.1 L577.5,117.5 L578.3,108.2 L579.0,101.2 L579.4,98.9 L580.1,96.6 L580.5,95.0 L581.1,85.1 L581.8,289.2 L582.2,289.0 L582.5,288.6 L583.3,287.1 L584.0,285.0 L584.7,281.5 L585.8,272.2 L588.0,250.0 L591.7,220.1 L593.2,206.9 L594.3,195.2 L595.0,185.2 L598.3,132.7 L599.1,123.4 L599.8,116.4 L600.9,108.7 L601.6,105.1 L602.4,103.3 L603.5,101.4 L604.2,100.7 L604.9,100.4 L605.2,100.7 L606.0,102.7 L606.6,106.1 L607.4,110.4 L608.1,118.0 L608.5,123.7 L608.9,136.0 L610.0,199.4 L611.3,260.2 L611.7,270.2 L612.4,277.1 L613.2,281.7 L613.5,282.9 L613.9,283.3 L614.3,283.2 L615.1,282.1 L616.6,278.8 L618.9,274.7 L619.6,273.0 L620.7,269.4 L621.9,264.0 L623.3,254.6 L627.0,228.9 L631.7,194.4 L636.3,163.2 L639.5,143.2 L640.9,135.6 L642.0,130.5 L643.8,123.3 L645.6,116.9 L647.4,111.2 L649.5,105.0 L651.7,99.7 L653.5,95.8 L654.6,94.0 L657.1,90.8 L658.2,88.8 L658.9,87.1 L659.7,84.9 L660.5,81.6 L661.2,76.1 L661.6,72.2 L662.4,61.3 L663.0,24.1 L663.3,338.7 L663.7,333.7 L664.5,311.3 L664.9,305.3 L665.3,304.1 L666.0,302.2 L666.8,300.9 L667.5,299.9 L669.7,297.5 L677.5,286.5 L679.3,283.8 L681.1,280.7 L683.9,275.3 L687.4,267.8 L690.6,260.4 L693.5,253.0 L696.8,244.1 L699.3,236.6 L702.3,227.5 L705.1,218.2 L709.7,201.9 L719.3,165.9 L723.1,152.6 L725.6,144.9 L727.8,138.7 L729.3,134.6 L732.1,127.8 L735.6,120.1 L738.8,114.1 L742.7,107.6 L747.0,101.5 L751.5,95.9 L758.6,88.0 L768.1,78.2 L771.6,74.4 L777.6,67.1 L780.1,63.7 L782.5,60.1 L785.4,55.5 L787.9,51.1 L790.4,46.3 L792.5,41.9 L795.4,35.2 L797.5,27.4 L798.3,25.5 L798.6,25.0 L799.0,24.8 L799.2,349.2 L799.6,348.2 L800.6,339.7 L801.0,338.0 L802.1,335.7 L803.2,334.0 L804.2,332.7 L806.7,330.2 L813.4,322.1 L819.1,315.9 L824.0,311.0 L830.7,305.1 L835.9,300.8 L841.6,296.5 L847.5,292.3 L853.2,288.6 L860.9,284.1 L892.8,266.5 L898.8,263.0 L905.1,258.8 L911.8,254.1 L918.2,249.2 L924.3,244.0 L931.4,237.4 L937.5,231.3 L944.6,223.8 L949.6,218.2 L955.6,211.1 L965.7,198.7 L978.6,182.0 L982.6,177.0 L984.6,174.2 L985.0,173.9 L985.4,173.8 L985.8,173.9 L986.5,174.3 L988.3,175.9 L989.8,176.2 L990.2,176.2 L990.6,176.0 L990.9,175.5 L991.6,173.6 L993.8,165.6 L994.5,163.6 L994.9,163.0 L996.3,161.7 L997.4,160.4 L1001.8,154.2 L1003.6,152.0 L1006.1,149.5 L1008.2,147.6 L1010.4,145.9 L1012.5,144.5" fill="none" stroke="#808000" stroke-width="2.4" stroke-linejoin="round" stroke-linecap="round"/>
<circle cx="989.4" cy="215.3" r="1.25" fill="#0000ff"/>
<circle cx="992.7" cy="211.3" r="1.25" fill="#0000ff"/>
<circle cx="989.2" cy="169" r="1.25" fill="#808000"/>
<circle cx="992.4" cy="165.8" r="1.25" fill="#808000"/>
<circle cx="989.7" cy="152.4" r="1.25" fill="#00ff00"/>
<circle cx="993.2" cy="149.2" r="1.25" fill="#ff00ff"/>
</g>
<line x1="72.7" y1="431.0" x2="72.7" y2="762.4" stroke="#444" stroke-width="1.4"/>
<line x1="67.7" y1="757.4" x2="505.8" y2="757.4" stroke="#444" stroke-width="1.4"/>
<line x1="68.10000000000001" y1="757.40" x2="72.7" y2="757.40" stroke="#444" stroke-width="1.2"/>
<line x1="70.2" y1="730.24" x2="72.7" y2="730.24" stroke="#888" stroke-width="1"/>
<text x="62.90" y="762.80" font-size="16" font-weight="bold" text-anchor="end" >0</text>
<line x1="68.10000000000001" y1="703.08" x2="72.7" y2="703.08" stroke="#444" stroke-width="1.2"/>
<line x1="70.2" y1="675.92" x2="72.7" y2="675.92" stroke="#888" stroke-width="1"/>
<text x="62.90" y="708.48" font-size="16" font-weight="bold" text-anchor="end" >15</text>
<line x1="68.10000000000001" y1="648.77" x2="72.7" y2="648.77" stroke="#444" stroke-width="1.2"/>
<line x1="70.2" y1="621.61" x2="72.7" y2="621.61" stroke="#888" stroke-width="1"/>
<text x="62.90" y="654.17" font-size="16" font-weight="bold" text-anchor="end" >30</text>
<line x1="68.10000000000001" y1="594.45" x2="72.7" y2="594.45" stroke="#444" stroke-width="1.2"/>
<line x1="70.2" y1="567.29" x2="72.7" y2="567.29" stroke="#888" stroke-width="1"/>
<text x="62.90" y="599.85" font-size="16" font-weight="bold" text-anchor="end" >45</text>
<line x1="68.10000000000001" y1="540.13" x2="72.7" y2="540.13" stroke="#444" stroke-width="1.2"/>
<line x1="70.2" y1="512.97" x2="72.7" y2="512.97" stroke="#888" stroke-width="1"/>
<text x="62.90" y="545.53" font-size="16" font-weight="bold" text-anchor="end" >60</text>
<line x1="68.10000000000001" y1="485.82" x2="72.7" y2="485.82" stroke="#444" stroke-width="1.2"/>
<line x1="70.2" y1="458.66" x2="72.7" y2="458.66" stroke="#888" stroke-width="1"/>
<text x="62.90" y="491.22" font-size="16" font-weight="bold" text-anchor="end" >75</text>
<line x1="68.10000000000001" y1="431.50" x2="72.7" y2="431.50" stroke="#444" stroke-width="1.2"/>
<text x="62.90" y="436.90" font-size="16" font-weight="bold" text-anchor="end" >90</text>
<line x1="72.70" y1="757.4" x2="72.70" y2="762.1999999999999" stroke="#444" stroke-width="1.2"/>
<text x="72.70" y="779.30" font-size="16" font-weight="bold" text-anchor="middle" >200</text>
<line x1="114.30" y1="757.4" x2="114.30" y2="759.8" stroke="#444" stroke-width="1.2"/>
<line x1="155.91" y1="757.4" x2="155.91" y2="762.1999999999999" stroke="#444" stroke-width="1.2"/>
<text x="155.91" y="779.30" font-size="16" font-weight="bold" text-anchor="middle" >350</text>
<line x1="197.51" y1="757.4" x2="197.51" y2="759.8" stroke="#444" stroke-width="1.2"/>
<line x1="239.11" y1="757.4" x2="239.11" y2="762.1999999999999" stroke="#444" stroke-width="1.2"/>
<text x="239.11" y="779.30" font-size="16" font-weight="bold" text-anchor="middle" >500</text>
<line x1="280.71" y1="757.4" x2="280.71" y2="759.8" stroke="#444" stroke-width="1.2"/>
<line x1="322.31" y1="757.4" x2="322.31" y2="762.1999999999999" stroke="#444" stroke-width="1.2"/>
<text x="322.31" y="779.30" font-size="16" font-weight="bold" text-anchor="middle" >650</text>
<line x1="363.92" y1="757.4" x2="363.92" y2="759.8" stroke="#444" stroke-width="1.2"/>
<line x1="405.52" y1="757.4" x2="405.52" y2="762.1999999999999" stroke="#444" stroke-width="1.2"/>
<text x="405.52" y="779.30" font-size="16" font-weight="bold" text-anchor="middle" >800</text>
<line x1="447.12" y1="757.4" x2="447.12" y2="759.8" stroke="#444" stroke-width="1.2"/>
<line x1="488.72" y1="757.4" x2="488.72" y2="762.1999999999999" stroke="#444" stroke-width="1.2"/>
<text x="488.72" y="779.30" font-size="16" font-weight="bold" text-anchor="middle" >950</text>
<clipPath id="clipc"><rect x="71.2" y="430.5" width="434.6" height="326.9"/></clipPath>
<g clip-path="url(#clipc)">
<path d="M72.8,455.0 L73.3,501.9 L74.5,581.6 L74.9,599.2 L75.6,617.2 L76.0,622.0 L76.8,627.6 L77.1,629.4 L77.5,630.0 L79.5,630.0 L79.9,629.5 L80.3,628.0 L83.1,614.2 L85.0,603.0 L85.9,599.2 L86.3,586.8 L88.0,495.0 L88.4,484.7 L88.8,494.8 L90.6,584.3 L91.0,599.2 L91.8,610.8 L92.5,618.0 L93.6,625.4 L94.3,629.2 L95.0,632.0 L95.7,634.2 L96.8,636.7 L99.0,640.4 L99.8,641.2 L100.2,641.4 L100.6,641.5 L101.0,641.4 L101.7,640.4 L102.4,638.8 L103.9,634.9 L105.4,629.2 L107.2,620.4 L110.6,601.3 L111.0,598.0 L111.4,593.3 L111.7,586.2 L114.7,510.0 L115.1,502.8 L115.5,500.0 L115.9,501.9 L116.7,514.5 L120.1,592.7 L120.8,601.5 L121.9,610.0 L123.0,616.4 L125.5,629.7 L127.4,637.9 L128.9,643.2 L130.8,648.5 L134.9,658.4 L136.0,660.7 L136.7,661.8 L137.4,662.4 L137.8,662.5 L138.2,662.4 L138.9,661.6 L139.6,660.2 L140.3,658.3 L144.3,646.7 L146.0,640.6 L150.6,623.6 L153.5,612.0 L156.5,597.0 L158.8,588.0 L159.5,584.0 L159.9,581.2 L160.7,573.7 L163.5,541.3 L164.3,530.0 L166.3,495.0 L166.7,489.3 L167.1,486.3 L167.5,487.7 L167.8,491.1 L168.6,500.6 L169.9,521.7 L171.4,550.5 L172.2,560.5 L173.3,572.2 L174.8,584.7 L176.6,597.1 L178.5,607.2 L181.1,618.4 L182.9,624.7 L196.8,672.0 L199.4,679.8 L200.9,683.9 L202.0,686.6 L204.1,691.0 L205.9,694.1 L207.3,696.0 L210.2,698.6 L211.3,699.4 L212.4,699.9 L213.1,700.0 L213.9,700.1 L215.0,699.9 L216.1,699.6 L218.2,698.7 L221.5,697.0 L223.2,695.5 L225.0,693.5 L227.1,690.6 L229.2,687.1 L240.1,667.2 L247.5,652.7 L252.9,642.8 L255.1,638.4 L257.6,632.6 L260.0,626.0 L262.5,618.8 L266.1,607.5 L269.6,595.2 L272.4,584.3 L274.9,573.6 L277.0,563.3 L278.4,555.4 L282.1,529.2 L283.5,519.8 L285.0,512.1 L287.9,497.9 L289.8,487.0 L290.5,484.0 L291.6,481.4 L292.3,480.2 L292.6,479.8 L293.0,479.7 L293.4,479.8 L293.7,480.2 L294.8,482.2 L295.9,485.0 L296.6,488.0 L298.7,499.2 L302.0,514.4 L303.5,521.8 L304.6,528.3 L306.0,539.0 L307.1,545.8 L308.5,554.0 L310.4,563.2 L312.9,574.8 L315.5,585.6 L317.6,593.7 L319.8,600.4 L323.0,608.9 L326.2,616.3 L329.7,623.5 L331.5,626.8 L333.6,630.4 L337.5,636.2 L342.5,642.8 L347.5,648.7 L355.0,656.8 L363.1,665.2 L375.9,677.8 L382.3,684.0 L394.0,694.9 L397.6,697.9 L403.3,702.5 L408.3,706.4 L412.5,709.5 L416.4,712.2 L420.0,714.4 L424.6,717.0 L428.9,719.2 L432.5,720.8 L437.4,722.6 L440.9,723.6 L446.3,724.6 L450.5,725.1 L454.1,725.2 L457.9,724.9 L465.3,723.6 L468.1,723.0 L475.2,720.9 L479.0,720.2 L481.9,720.0 L482.6,720.2 L485.2,721.2 L486.3,721.2 L487.0,720.8 L487.7,720.1 L491.4,715.0 L492.1,714.3 L493.9,713.1 L497.4,710.8 L500.7,709.2 L503.5,708.3 L506.0,708.0" fill="none" stroke="#800080" stroke-width="2.4" stroke-linejoin="round" stroke-linecap="round"/>
<path d="M131.8,648.8 L135.9,658.7 L137.0,661.0 L137.7,662.1 L138.4,662.7 L138.8,662.8 L139.2,662.7 L139.9,661.9 L140.6,660.5 L141.3,658.6 L145.3,647.0 L147.0,640.9 L151.6,623.9 L154.5,612.3 L157.5,597.3 L159.8,588.3 L160.5,584.3 L160.9,581.5 L161.7,574.0 L164.5,541.6 L165.3,530.3 L167.3,495.3 L167.7,489.6 L168.1,486.6 L168.5,488.0 L168.8,491.4 L169.6,500.9 L170.9,522.0 L172.4,550.8 L173.2,560.8 L174.3,572.5 L175.8,585.0 L177.6,597.4 L179.5,607.5 L182.1,618.7 L183.9,625.0 L197.8,672.3 L200.4,680.1 L201.9,684.2 L203.0,686.9 L205.1,691.3 L206.9,694.4 L208.3,696.3 L211.2,698.9 L212.3,699.7 L213.4,700.2 L214.1,700.3 L214.9,700.4 L216.0,700.2 L217.1,699.9 L219.2,699.0 L222.5,697.3 L224.2,695.8 L226.0,693.8 L228.1,690.9 L230.2,687.4 L241.1,667.5 L248.5,653.0 L253.9,643.1 L256.1,638.7 L258.6,632.9 L261.0,626.3 L263.5,619.1 L267.1,607.8 L270.6,595.5 L273.4,584.6 L275.9,573.9 L278.0,563.6 L279.4,555.7 L283.1,529.5 L284.5,520.1 L286.0,512.4 L288.9,498.2 L290.8,487.3 L291.5,484.3 L292.6,481.7 L293.3,480.5 L293.6,480.1 L294.0,480.0 L294.4,480.1 L294.7,480.5 L295.8,482.5 L296.9,485.3 L297.6,488.3 L299.7,499.5 L303.0,514.7 L304.5,522.1 L305.6,528.6 L307.0,539.3 L308.1,546.1 L309.5,554.3 L311.4,563.5 L313.9,575.1 L316.5,585.9 L318.6,594.0 L320.8,600.7 L324.0,609.2 L327.2,616.6 L330.7,623.8 L332.5,627.1 L334.6,630.7 L338.5,636.5 L343.5,643.1 L348.5,649.0 L356.0,657.1 L364.1,665.5 L376.9,678.1 L383.3,684.3 L395.0,695.2 L398.6,698.2 L404.3,702.8 L409.3,706.7 L413.5,709.8 L417.4,712.5 L421.0,714.7 L425.6,717.3 L429.9,719.5 L433.5,721.1 L438.4,722.9 L441.9,723.9 L447.3,724.9 L451.5,725.4 L455.1,725.5 L458.9,725.2 L466.3,723.9 L469.1,723.3 L476.2,721.2 L480.0,720.5 L482.9,720.3 L483.6,720.5 L486.2,721.5 L487.3,721.5 L488.0,721.1 L488.7,720.4 L492.4,715.3 L493.1,714.6 L494.9,713.4 L498.4,711.1 L501.7,709.5 L504.5,708.6 L507.0,708.3" fill="none" stroke="#800080" stroke-width="1.9" stroke-linecap="round" stroke-dasharray="0 3.6"/>
<path d="M72.8,695.0 L73.2,692.8 L73.6,688.0 L73.9,679.7 L75.0,640.0 L76.4,610.9 L76.8,599.2 L77.8,508.5 L78.2,490.5 L78.6,508.1 L79.7,599.2 L80.1,615.2 L80.4,627.4 L80.8,635.0 L81.9,648.6 L82.3,651.5 L82.7,653.3 L83.1,654.0 L83.5,653.8 L83.8,653.2 L84.5,651.0 L86.4,643.4 L87.4,637.5 L88.5,630.0 L89.2,623.6 L91.0,604.6 L91.4,599.2 L91.9,582.2 L93.5,488.8 L93.9,471.8 L94.3,464.9 L94.7,471.8 L95.0,488.8 L96.8,587.6 L97.2,599.2 L97.9,610.4 L98.6,617.5 L99.8,624.2 L100.9,628.9 L102.0,632.0 L103.5,634.9 L104.6,636.7 L105.3,637.5 L106.0,637.9 L106.8,637.9 L107.5,637.5 L108.6,636.3 L110.0,634.0 L111.1,631.5 L111.9,629.2 L113.0,625.0 L113.7,621.5 L114.5,617.2 L115.2,612.0 L116.1,604.4 L116.9,592.9 L118.8,547.4 L119.9,516.3 L120.6,502.3 L121.0,500.2 L121.4,501.4 L121.7,504.8 L122.5,516.6 L124.7,565.0 L125.8,593.0 L126.2,599.2 L127.4,611.1 L128.2,616.9 L129.7,626.3 L131.4,635.4 L133.6,644.1 L135.3,650.0 L137.8,657.4 L138.9,659.9 L139.6,660.9 L140.0,661.0 L141.8,660.9 L144.7,660.3 L146.1,659.8 L147.9,659.0 L150.1,657.7 L151.5,656.7 L151.9,656.2 L152.6,654.7 L154.0,650.4 L157.9,634.5 L159.3,628.1 L162.5,612.0 L165.0,600.3 L166.1,594.0 L166.9,588.2 L167.7,581.0 L168.5,572.0 L169.2,560.0 L170.0,545.0 L171.4,512.0 L173.5,447.5 L173.9,442.6 L174.3,447.7 L175.0,470.0 L176.4,505.0 L177.5,524.1 L178.6,540.6 L180.1,560.7 L181.6,576.4 L183.1,589.3 L184.2,596.7 L185.2,603.0 L187.0,612.0 L188.8,619.8 L196.0,646.7 L198.1,654.4 L199.9,660.3 L204.9,674.7 L206.6,679.5 L208.4,684.0 L209.8,687.1 L211.2,689.8 L212.6,691.9 L214.8,694.4 L217.3,697.1 L219.1,698.7 L221.3,700.2 L223.1,701.0 L224.1,701.2 L224.8,701.2 L226.6,700.8 L228.3,699.9 L230.4,698.5 L235.0,694.4 L236.4,692.9 L237.8,691.0 L239.6,688.2 L246.4,676.0 L254.2,663.3 L258.1,656.7 L264.2,645.7 L268.2,637.8 L271.7,629.7 L274.9,621.6 L278.1,612.7 L281.3,602.8 L284.5,591.4 L287.6,578.7 L290.1,567.8 L293.4,551.2 L294.9,544.3 L297.2,534.8 L300.5,522.0 L301.6,518.7 L302.4,517.4 L303.8,515.4 L304.6,514.7 L305.3,514.5 L305.7,514.6 L306.4,515.0 L307.4,516.3 L308.9,518.7 L310.0,521.5 L311.9,528.3 L314.0,540.0 L315.5,546.4 L317.6,555.0 L320.2,564.0 L324.5,578.1 L328.7,591.0 L333.0,602.7 L336.9,612.2 L339.6,618.3 L343.9,626.7 L347.8,633.7 L351.8,640.1 L355.0,644.7 L358.8,649.7 L363.1,654.7 L367.7,659.5 L370.9,662.6 L374.4,665.9 L391.5,680.3 L408.3,694.0 L418.2,701.7 L427.1,708.1 L434.3,712.6 L438.9,715.3 L442.8,717.5 L446.8,719.4 L450.6,721.1 L459.0,724.3 L461.1,724.9 L462.8,725.2 L473.1,725.6 L485.9,725.7 L486.6,725.6 L487.4,725.2 L489.6,723.5 L490.3,723.1 L496.4,720.4 L501.4,718.6 L503.9,717.9 L506.0,717.5" fill="none" stroke="#008080" stroke-width="2.4" stroke-linejoin="round" stroke-linecap="round"/>
<path d="M132.4,635.7 L134.6,644.4 L136.3,650.3 L138.8,657.7 L139.9,660.2 L140.6,661.2 L141.0,661.3 L142.8,661.2 L145.7,660.6 L147.1,660.1 L148.9,659.3 L151.1,658.0 L152.5,657.0 L152.9,656.5 L153.6,655.0 L155.0,650.7 L158.9,634.8 L160.3,628.4 L163.5,612.3 L166.0,600.6 L167.1,594.3 L167.9,588.5 L168.7,581.3 L169.5,572.3 L170.2,560.3 L171.0,545.3 L172.4,512.3 L174.5,447.8 L174.9,442.9 L175.3,448.0 L176.0,470.3 L177.4,505.3 L178.5,524.4 L179.6,540.9 L181.1,561.0 L182.6,576.7 L184.1,589.6 L185.2,597.0 L186.2,603.3 L188.0,612.3 L189.8,620.1 L197.0,647.0 L199.1,654.7 L200.9,660.6 L205.9,675.0 L207.6,679.8 L209.4,684.3 L210.8,687.4 L212.2,690.1 L213.6,692.2 L215.8,694.7 L218.3,697.4 L220.1,699.0 L222.3,700.5 L224.1,701.3 L225.1,701.5 L225.8,701.5 L227.6,701.1 L229.3,700.2 L231.4,698.8 L236.0,694.7 L237.4,693.2 L238.8,691.3 L240.6,688.5 L247.4,676.3 L255.2,663.6 L259.1,657.0 L265.2,646.0 L269.2,638.1 L272.7,630.0 L275.9,621.9 L279.1,613.0 L282.3,603.1 L285.5,591.7 L288.6,579.0 L291.1,568.1 L294.4,551.5 L295.9,544.6 L298.2,535.1 L301.5,522.3 L302.6,519.0 L303.4,517.7 L304.8,515.7 L305.6,515.0 L306.3,514.8 L306.7,514.9 L307.4,515.3 L308.4,516.6 L309.9,519.0 L311.0,521.8 L312.9,528.6 L315.0,540.3 L316.5,546.7 L318.6,555.3 L321.2,564.3 L325.5,578.4 L329.7,591.3 L334.0,603.0 L337.9,612.5 L340.6,618.6 L344.9,627.0 L348.8,634.0 L352.8,640.4 L356.0,645.0 L359.8,650.0 L364.1,655.0 L368.7,659.8 L371.9,662.9 L375.4,666.2 L392.5,680.6 L409.3,694.3 L419.2,702.0 L428.1,708.4 L435.3,712.9 L439.9,715.6 L443.8,717.8 L447.8,719.7 L451.6,721.4 L460.0,724.6 L462.1,725.2 L463.8,725.5 L474.1,725.9 L486.9,726.0 L487.6,725.9 L488.4,725.5 L490.6,723.8 L491.3,723.4 L497.4,720.7 L502.4,718.9 L504.9,718.2 L507.0,717.8" fill="none" stroke="#008080" stroke-width="1.9" stroke-linecap="round" stroke-dasharray="0 3.6"/>
<path d="M72.8,705.0 L73.2,701.7 L73.6,697.0 L74.9,673.5 L79.3,608.1 L79.7,599.2 L80.4,560.0 L81.1,529.7 L81.5,541.5 L81.9,560.0 L82.8,587.6 L84.3,624.0 L85.0,635.0 L86.1,644.8 L86.8,650.0 L87.5,653.5 L87.8,654.5 L88.2,654.8 L88.6,654.4 L89.0,653.3 L89.3,651.6 L90.5,645.0 L91.3,638.4 L93.0,618.9 L93.9,606.5 L94.3,599.2 L94.7,585.4 L96.5,477.8 L96.8,460.3 L97.2,453.2 L97.6,460.5 L100.3,590.1 L100.7,599.2 L101.5,608.1 L102.2,614.0 L103.4,619.6 L105.2,627.1 L106.0,629.5 L106.7,631.4 L107.5,632.8 L108.2,633.5 L108.6,633.6 L109.0,633.5 L109.7,633.0 L110.9,631.7 L112.7,628.8 L113.8,626.4 L115.3,622.4 L116.0,620.0 L116.8,616.7 L118.7,605.6 L119.4,599.2 L119.8,591.5 L121.0,549.9 L122.9,489.0 L123.3,479.5 L123.7,473.1 L124.1,470.7 L124.5,473.2 L124.9,479.8 L128.3,584.1 L128.7,593.3 L129.1,599.2 L129.5,602.5 L130.2,607.5 L132.3,618.2 L135.3,636.3 L136.4,641.7 L137.8,647.8 L139.6,654.0 L142.9,662.6 L143.9,664.9 L144.7,666.0 L145.4,666.7 L146.1,667.0 L147.2,666.7 L148.3,665.9 L149.4,664.6 L150.5,662.9 L152.3,659.7 L154.5,655.2 L155.2,653.4 L156.2,650.0 L158.8,640.2 L161.3,629.1 L162.4,623.7 L165.8,605.0 L167.6,592.9 L168.7,583.9 L170.1,569.2 L171.3,554.5 L172.1,542.1 L173.4,515.6 L175.0,475.0 L175.4,461.0 L175.8,452.3 L176.3,460.9 L176.8,475.0 L178.2,505.0 L179.6,529.5 L181.2,552.2 L182.4,566.0 L183.9,580.0 L186.1,597.9 L187.6,607.9 L188.4,611.9 L189.5,616.9 L196.8,645.1 L201.1,660.3 L205.2,673.0 L206.7,677.2 L208.9,682.5 L211.1,687.4 L212.8,691.0 L214.6,694.2 L216.4,696.8 L218.2,699.2 L219.6,700.6 L221.9,702.3 L223.3,703.3 L224.8,703.8 L226.3,703.7 L228.4,703.1 L231.2,701.8 L234.4,699.8 L236.1,698.2 L238.3,695.3 L240.4,691.8 L247.2,678.8 L249.6,674.3 L266.3,648.4 L270.3,641.8 L274.2,634.0 L277.8,626.1 L281.4,617.1 L284.3,609.0 L287.1,599.6 L291.5,584.4 L297.3,561.8 L299.2,553.5 L300.0,551.0 L301.4,548.0 L302.8,545.8 L303.9,544.7 L305.3,543.4 L306.0,543.0 L306.7,542.9 L307.5,543.1 L308.2,543.5 L309.7,545.1 L310.5,546.0 L311.2,547.1 L312.3,549.5 L313.7,553.7 L317.3,565.2 L323.2,587.1 L324.6,591.7 L326.1,595.8 L329.0,603.6 L331.9,610.6 L334.8,616.5 L337.9,622.1 L342.8,629.9 L348.2,637.5 L353.9,644.9 L359.6,651.7 L365.6,658.2 L372.3,665.1 L378.7,671.1 L390.1,681.5 L397.9,688.2 L409.7,697.8 L417.5,703.7 L425.0,708.9 L431.8,713.2 L439.6,717.4 L446.0,720.5 L449.9,722.1 L453.1,723.2 L460.5,725.2 L463.7,725.9 L466.9,726.4 L477.8,727.6 L482.0,727.8 L485.9,727.9 L486.6,727.8 L487.4,727.4 L489.6,725.7 L490.3,725.3 L496.4,722.7 L501.4,721.0 L503.9,720.4 L506.0,720.0" fill="none" stroke="#ff8000" stroke-width="2.4" stroke-linejoin="round" stroke-linecap="round"/>
<path d="M131.2,607.8 L133.3,618.5 L136.3,636.6 L137.4,642.0 L138.8,648.1 L140.6,654.3 L143.9,662.9 L144.9,665.2 L145.7,666.3 L146.4,667.0 L147.1,667.3 L148.2,667.0 L149.3,666.2 L150.4,664.9 L151.5,663.2 L153.3,660.0 L155.5,655.5 L156.2,653.7 L157.2,650.3 L159.8,640.5 L162.3,629.4 L163.4,624.0 L166.8,605.3 L168.6,593.2 L169.7,584.2 L171.1,569.5 L172.3,554.8 L173.1,542.4 L174.4,515.9 L176.0,475.3 L176.4,461.3 L176.8,452.6 L177.3,461.2 L177.8,475.3 L179.2,505.3 L180.6,529.8 L182.2,552.5 L183.4,566.3 L184.9,580.3 L187.1,598.2 L188.6,608.2 L189.4,612.2 L190.5,617.2 L197.8,645.4 L202.1,660.6 L206.2,673.3 L207.7,677.5 L209.9,682.8 L212.1,687.7 L213.8,691.3 L215.6,694.5 L217.4,697.1 L219.2,699.5 L220.6,700.9 L222.9,702.6 L224.3,703.6 L225.8,704.1 L227.3,704.0 L229.4,703.4 L232.2,702.1 L235.4,700.1 L237.1,698.5 L239.3,695.6 L241.4,692.1 L248.2,679.1 L250.6,674.6 L267.3,648.7 L271.3,642.1 L275.2,634.3 L278.8,626.4 L282.4,617.4 L285.3,609.3 L288.1,599.9 L292.5,584.7 L298.3,562.1 L300.2,553.8 L301.0,551.3 L302.4,548.3 L303.8,546.1 L304.9,545.0 L306.3,543.7 L307.0,543.3 L307.7,543.2 L308.5,543.4 L309.2,543.8 L310.7,545.4 L311.5,546.3 L312.2,547.4 L313.3,549.8 L314.7,554.0 L318.3,565.5 L324.2,587.4 L325.6,592.0 L327.1,596.1 L330.0,603.9 L332.9,610.9 L335.8,616.8 L338.9,622.4 L343.8,630.2 L349.2,637.8 L354.9,645.2 L360.6,652.0 L366.6,658.5 L373.3,665.4 L379.7,671.4 L391.1,681.8 L398.9,688.5 L410.7,698.1 L418.5,704.0 L426.0,709.2 L432.8,713.5 L440.6,717.7 L447.0,720.8 L450.9,722.4 L454.1,723.5 L461.5,725.5 L464.7,726.2 L467.9,726.7 L478.8,727.9 L483.0,728.1 L486.9,728.2 L487.6,728.1 L488.4,727.7 L490.6,726.0 L491.3,725.6 L497.4,723.0 L502.4,721.3 L504.9,720.7 L507.0,720.3" fill="none" stroke="#ff8000" stroke-width="1.9" stroke-linecap="round" stroke-dasharray="0 3.6"/>
<path d="M72.8,745.0 L73.6,731.9 L74.8,700.0 L75.8,683.7 L77.5,634.2 L78.0,625.0 L78.5,631.0 L79.0,640.0 L80.1,652.6 L80.5,655.0 L81.2,658.1 L82.0,660.5 L82.4,661.3 L82.7,661.8 L83.1,662.0 L83.5,661.5 L83.9,660.3 L84.3,658.3 L85.5,650.0 L86.3,639.6 L87.6,617.7 L88.4,599.2 L89.8,540.0 L91.0,480.3 L91.4,473.0 L91.9,485.9 L92.8,540.0 L93.5,573.6 L94.3,599.2 L94.7,607.8 L95.6,620.5 L96.4,628.5 L97.2,634.3 L97.6,636.4 L98.0,638.0 L99.1,641.1 L99.9,642.6 L100.2,643.0 L100.6,643.1 L101.0,642.9 L101.3,642.5 L102.0,641.0 L102.8,639.1 L103.9,635.9 L104.6,633.3 L106.5,625.0 L109.8,605.3 L110.7,599.2 L111.4,588.7 L112.2,572.9 L114.0,527.1 L115.1,493.0 L115.5,485.5 L115.9,482.7 L116.3,484.8 L116.6,490.4 L118.0,528.5 L120.7,587.9 L121.4,599.2 L122.1,606.1 L123.2,614.1 L126.8,636.2 L127.8,642.0 L128.5,645.0 L129.3,647.5 L130.4,650.6 L134.9,660.4 L135.6,661.7 L136.3,662.8 L137.0,663.3 L137.4,663.4 L137.8,663.3 L138.5,662.6 L139.6,660.7 L143.2,651.2 L145.4,644.2 L149.1,630.9 L152.1,619.2 L155.0,606.2 L156.4,598.4 L157.5,590.4 L158.6,579.4 L159.4,570.0 L160.5,550.0 L161.5,520.0 L163.3,455.0 L164.0,438.2 L164.4,443.9 L164.8,455.0 L166.7,520.0 L167.6,541.8 L168.4,555.2 L169.4,567.4 L171.3,584.6 L175.0,615.0 L177.6,633.7 L178.7,640.1 L180.4,646.8 L186.9,665.8 L190.6,675.8 L191.8,678.5 L194.3,683.8 L197.2,689.1 L198.6,691.3 L200.4,693.6 L201.9,695.2 L203.3,696.5 L205.5,697.8 L206.9,698.5 L208.0,698.7 L209.5,698.7 L211.2,698.2 L213.0,697.4 L216.5,695.3 L217.9,694.3 L219.0,693.3 L220.4,691.7 L223.2,687.8 L225.7,683.9 L234.5,669.3 L240.6,658.3 L247.6,644.4 L252.2,634.5 L256.4,624.3 L260.7,613.0 L264.6,601.7 L266.4,595.6 L270.0,581.9 L271.5,576.8 L272.9,572.4 L275.5,566.2 L276.9,563.3 L278.0,562.0 L280.2,560.4 L281.4,559.9 L282.1,559.8 L282.8,560.0 L283.9,560.8 L285.0,562.1 L286.9,564.5 L288.3,567.1 L290.0,571.1 L291.9,576.2 L296.2,591.8 L298.0,597.3 L300.8,605.2 L303.7,612.7 L306.1,618.8 L308.6,624.5 L311.4,630.2 L315.0,636.4 L318.8,642.6 L323.1,648.8 L328.3,655.6 L334.0,662.2 L342.5,670.5 L351.0,678.4 L360.6,686.5 L369.8,693.9 L379.4,700.9 L389.8,707.9 L396.5,712.1 L406.1,717.1 L412.9,720.3 L416.1,721.6 L418.9,722.6 L426.8,724.9 L428.9,725.4 L431.1,725.7 L434.6,725.9 L446.8,726.0 L448.5,725.9 L450.6,725.5 L456.6,723.9 L459.4,722.7 L466.9,719.2 L474.0,716.7 L477.2,715.8 L479.4,715.4 L481.5,715.2 L481.9,715.2 L482.6,715.6 L484.3,716.7 L485.0,716.9 L485.4,716.8 L486.1,716.5 L486.8,715.8 L488.9,713.0 L489.9,711.9 L494.6,709.1 L497.8,707.4 L500.6,706.3 L503.5,705.5 L506.0,705.3" fill="none" stroke="#8000ff" stroke-width="2.4" stroke-linejoin="round" stroke-linecap="round"/>
<path d="M131.4,650.9 L135.9,660.7 L136.6,662.0 L137.3,663.1 L138.0,663.6 L138.4,663.7 L138.8,663.6 L139.5,662.9 L140.6,661.0 L144.2,651.5 L146.4,644.5 L150.1,631.2 L153.1,619.5 L156.0,606.5 L157.4,598.7 L158.5,590.7 L159.6,579.7 L160.4,570.3 L161.5,550.3 L162.5,520.3 L164.3,455.3 L165.0,438.5 L165.4,444.2 L165.8,455.3 L167.7,520.3 L168.6,542.1 L169.4,555.5 L170.4,567.7 L172.3,584.9 L176.0,615.3 L178.6,634.0 L179.7,640.4 L181.4,647.1 L187.9,666.1 L191.6,676.1 L192.8,678.8 L195.3,684.1 L198.2,689.4 L199.6,691.6 L201.4,693.9 L202.9,695.5 L204.3,696.8 L206.5,698.1 L207.9,698.8 L209.0,699.0 L210.5,699.0 L212.2,698.5 L214.0,697.7 L217.5,695.6 L218.9,694.6 L220.0,693.6 L221.4,692.0 L224.2,688.1 L226.7,684.2 L235.5,669.6 L241.6,658.6 L248.6,644.7 L253.2,634.8 L257.4,624.6 L261.7,613.3 L265.6,602.0 L267.4,595.9 L271.0,582.2 L272.5,577.1 L273.9,572.7 L276.5,566.5 L277.9,563.6 L279.0,562.3 L281.2,560.7 L282.4,560.2 L283.1,560.1 L283.8,560.3 L284.9,561.1 L286.0,562.4 L287.9,564.8 L289.3,567.4 L291.0,571.4 L292.9,576.5 L297.2,592.1 L299.0,597.6 L301.8,605.5 L304.7,613.0 L307.1,619.1 L309.6,624.8 L312.4,630.5 L316.0,636.7 L319.8,642.9 L324.1,649.1 L329.3,655.9 L335.0,662.5 L343.5,670.8 L352.0,678.7 L361.6,686.8 L370.8,694.2 L380.4,701.2 L390.8,708.2 L397.5,712.4 L407.1,717.4 L413.9,720.6 L417.1,721.9 L419.9,722.9 L427.8,725.2 L429.9,725.7 L432.1,726.0 L435.6,726.2 L447.8,726.3 L449.5,726.2 L451.6,725.8 L457.6,724.2 L460.4,723.0 L467.9,719.5 L475.0,717.0 L478.2,716.1 L480.4,715.7 L482.5,715.5 L482.9,715.5 L483.6,715.9 L485.3,717.0 L486.0,717.2 L486.4,717.1 L487.1,716.8 L487.8,716.1 L489.9,713.3 L490.9,712.2 L495.6,709.4 L498.8,707.7 L501.6,706.6 L504.5,705.8 L507.0,705.6" fill="none" stroke="#8000ff" stroke-width="1.9" stroke-linecap="round" stroke-dasharray="0 3.6"/>
<circle cx="91.6" cy="469.5" r="1.25" fill="#8000ff"/>
</g>
<line x1="567.5" y1="431.0" x2="567.5" y2="762.4" stroke="#444" stroke-width="1.4"/>
<line x1="562.5" y1="757.4" x2="1007.8" y2="757.4" stroke="#444" stroke-width="1.4"/>
<line x1="562.9" y1="757.40" x2="567.5" y2="757.40" stroke="#444" stroke-width="1.2"/>
<line x1="565.0" y1="730.24" x2="567.5" y2="730.24" stroke="#888" stroke-width="1"/>
<text x="557.70" y="762.80" font-size="16" font-weight="bold" text-anchor="end" >0</text>
<line x1="562.9" y1="703.08" x2="567.5" y2="703.08" stroke="#444" stroke-width="1.2"/>
<line x1="565.0" y1="675.92" x2="567.5" y2="675.92" stroke="#888" stroke-width="1"/>
<text x="557.70" y="708.48" font-size="16" font-weight="bold" text-anchor="end" >60</text>
<line x1="562.9" y1="648.77" x2="567.5" y2="648.77" stroke="#444" stroke-width="1.2"/>
<line x1="565.0" y1="621.61" x2="567.5" y2="621.61" stroke="#888" stroke-width="1"/>
<text x="557.70" y="654.17" font-size="16" font-weight="bold" text-anchor="end" >120</text>
<line x1="562.9" y1="594.45" x2="567.5" y2="594.45" stroke="#444" stroke-width="1.2"/>
<line x1="565.0" y1="567.29" x2="567.5" y2="567.29" stroke="#888" stroke-width="1"/>
<text x="557.70" y="599.85" font-size="16" font-weight="bold" text-anchor="end" >180</text>
<line x1="562.9" y1="540.13" x2="567.5" y2="540.13" stroke="#444" stroke-width="1.2"/>
<line x1="565.0" y1="512.97" x2="567.5" y2="512.97" stroke="#888" stroke-width="1"/>
<text x="557.70" y="545.53" font-size="16" font-weight="bold" text-anchor="end" >240</text>
<line x1="562.9" y1="485.82" x2="567.5" y2="485.82" stroke="#444" stroke-width="1.2"/>
<line x1="565.0" y1="458.66" x2="567.5" y2="458.66" stroke="#888" stroke-width="1"/>
<text x="557.70" y="491.22" font-size="16" font-weight="bold" text-anchor="end" >300</text>
<line x1="562.9" y1="431.50" x2="567.5" y2="431.50" stroke="#444" stroke-width="1.2"/>
<text x="557.70" y="436.90" font-size="16" font-weight="bold" text-anchor="end" >360</text>
<line x1="567.50" y1="757.4" x2="567.50" y2="762.1999999999999" stroke="#444" stroke-width="1.2"/>
<text x="567.50" y="779.30" font-size="16" font-weight="bold" text-anchor="middle" >200</text>
<line x1="609.80" y1="757.4" x2="609.80" y2="759.8" stroke="#444" stroke-width="1.2"/>
<line x1="652.10" y1="757.4" x2="652.10" y2="762.1999999999999" stroke="#444" stroke-width="1.2"/>
<text x="652.10" y="779.30" font-size="16" font-weight="bold" text-anchor="middle" >350</text>
<line x1="694.40" y1="757.4" x2="694.40" y2="759.8" stroke="#444" stroke-width="1.2"/>
<line x1="736.70" y1="757.4" x2="736.70" y2="762.1999999999999" stroke="#444" stroke-width="1.2"/>
<text x="736.70" y="779.30" font-size="16" font-weight="bold" text-anchor="middle" >500</text>
<line x1="779.00" y1="757.4" x2="779.00" y2="759.8" stroke="#444" stroke-width="1.2"/>
<line x1="821.30" y1="757.4" x2="821.30" y2="762.1999999999999" stroke="#444" stroke-width="1.2"/>
<text x="821.30" y="779.30" font-size="16" font-weight="bold" text-anchor="middle" >650</text>
<line x1="863.60" y1="757.4" x2="863.60" y2="759.8" stroke="#444" stroke-width="1.2"/>
<line x1="905.90" y1="757.4" x2="905.90" y2="762.1999999999999" stroke="#444" stroke-width="1.2"/>
<text x="905.90" y="779.30" font-size="16" font-weight="bold" text-anchor="middle" >800</text>
<line x1="948.20" y1="757.4" x2="948.20" y2="759.8" stroke="#444" stroke-width="1.2"/>
<line x1="990.50" y1="757.4" x2="990.50" y2="762.1999999999999" stroke="#444" stroke-width="1.2"/>
<text x="990.50" y="779.30" font-size="16" font-weight="bold" text-anchor="middle" >950</text>
<clipPath id="clipd"><rect x="566.0" y="430.5" width="441.79999999999995" height="326.9"/></clipPath>
<g clip-path="url(#clipd)">
<path d="M567.6,442.0 L568.0,500.0 L568.6,620.0 L569.3,680.0 L569.7,685.5 L570.1,688.9 L570.5,690.0 L570.9,688.4 L571.3,684.2 L572.9,658.7 L575.0,610.0 L579.0,529.9 L579.4,524.0 L579.7,519.9 L580.1,518.4 L580.5,519.0 L580.9,520.5 L581.2,523.0 L582.0,530.0 L582.4,537.3 L583.5,580.0 L585.0,650.0 L585.8,674.7 L586.2,683.5 L586.6,687.0 L587.0,686.8 L587.8,685.4 L589.0,682.0 L589.7,679.1 L590.5,674.9 L591.2,669.8 L593.4,651.9 L595.1,633.6 L598.0,600.0 L601.8,552.2 L602.5,545.0 L604.6,527.2 L605.3,522.5 L606.0,519.4 L606.4,518.5 L606.7,518.2 L607.1,518.4 L607.5,519.1 L607.9,520.2 L608.7,523.4 L609.5,528.0 L609.9,533.1 L610.3,542.4 L611.5,580.0 L613.1,639.9 L613.5,650.0 L614.6,668.7 L615.3,677.6 L615.6,680.1 L616.0,681.0 L616.4,681.0 L617.1,680.6 L618.2,679.8 L619.0,679.0 L619.7,677.8 L620.8,674.5 L622.2,668.4 L625.0,654.9 L627.1,643.3 L632.8,609.0 L643.4,543.4 L644.9,535.0 L646.0,530.0 L648.1,521.9 L649.5,517.0 L650.6,514.1 L651.3,512.6 L652.0,511.7 L652.3,511.5 L652.7,511.4 L653.4,511.6 L654.5,512.6 L655.3,513.8 L656.4,516.1 L658.2,521.6 L658.6,523.7 L659.0,527.0 L659.8,536.6 L662.4,576.1 L663.9,600.0 L665.7,632.8 L666.4,644.2 L667.6,656.3 L668.7,665.5 L669.5,670.0 L670.7,675.5 L671.4,678.4 L672.2,680.3 L672.6,680.7 L673.3,681.0 L675.5,681.8 L677.9,682.1 L678.7,682.1 L679.0,681.9 L680.1,681.0 L681.6,678.9 L685.2,671.7 L688.5,665.9 L691.0,660.9 L693.2,656.2 L695.0,651.8 L697.2,646.1 L699.0,640.8 L701.6,632.3 L704.9,619.6 L707.2,609.5 L710.7,592.7 L714.0,578.1 L716.2,569.0 L719.1,557.8 L722.0,547.6 L724.5,539.8 L727.7,530.9 L731.0,523.2 L732.8,519.4 L735.3,514.7 L737.1,511.6 L738.9,508.9 L740.7,506.6 L743.9,503.1 L746.0,501.0 L748.2,499.3 L749.9,498.2 L751.7,497.4 L754.6,496.3 L757.4,495.5 L761.7,494.7 L769.5,493.9 L771.6,493.6 L772.7,493.3 L774.4,492.4 L776.2,491.1 L778.3,489.1 L780.1,487.1 L781.5,484.7 L783.3,480.5 L784.4,477.3 L785.5,472.6 L788.0,459.3 L789.1,452.7 L789.5,450.0 L789.9,445.9 L790.6,436.0 L791.0,434.0 L791.2,757.0 L791.6,754.6 L792.5,745.0 L792.9,742.1 L794.6,732.7 L796.5,723.0 L797.6,718.0 L800.5,707.2 L801.6,704.3 L802.3,703.1 L803.0,702.4 L806.2,699.5 L809.7,696.9 L813.2,694.9 L814.9,694.2 L817.0,693.5 L819.8,692.8 L822.7,692.5 L826.9,692.2 L836.5,691.9 L840.7,691.6 L842.5,691.3 L844.2,690.8 L848.1,689.2 L851.6,687.4 L858.2,683.6 L864.6,680.1 L881.7,669.4 L896.4,661.1 L902.0,657.4 L907.7,653.0 L913.0,648.3 L918.3,643.1 L923.3,637.6 L926.8,633.2 L931.4,626.7 L942.6,609.4 L961.9,581.7 L970.3,568.0 L972.1,565.5 L976.7,560.0 L978.4,558.0 L979.8,556.6 L981.2,555.6 L982.6,555.0 L983.3,554.8 L984.1,554.9 L984.8,555.4 L986.3,556.7 L987.0,557.0 L987.4,556.9 L988.1,556.1 L988.8,554.7 L991.8,547.3 L992.5,546.1 L993.2,545.3 L994.6,543.9 L996.0,542.7 L1008.0,533.5" fill="none" stroke="#800080" stroke-width="2.4" stroke-linejoin="round" stroke-linecap="round"/>
<path d="M583.0,530.3 L583.4,537.6 L584.5,580.3 L586.0,650.3 L586.8,675.0 L587.2,683.8 L587.6,687.3 L588.0,687.1 L588.8,685.7 L590.0,682.3 L590.7,679.4 L591.5,675.2 L592.2,670.1 L594.4,652.2 L596.1,633.9 L599.0,600.3 L602.8,552.5 L603.5,545.3 L605.6,527.5 L606.3,522.8 L607.0,519.7 L607.4,518.8 L607.7,518.5 L608.1,518.7 L608.5,519.4 L608.9,520.5 L609.7,523.7 L610.5,528.3 L610.9,533.4 L611.3,542.7 L612.5,580.3 L614.1,640.2 L614.5,650.3 L615.6,669.0 L616.3,677.9 L616.6,680.4 L617.0,681.3 L617.4,681.3 L618.1,680.9 L619.2,680.1 L620.0,679.3 L620.7,678.1 L621.8,674.8 L623.2,668.7 L626.0,655.2 L628.1,643.6 L633.8,609.3 L644.4,543.7 L645.9,535.3 L647.0,530.3 L649.1,522.2 L650.5,517.3 L651.6,514.4 L652.3,512.9 L653.0,512.0 L653.3,511.8 L653.7,511.7 L654.4,511.9 L655.5,512.9 L656.3,514.1 L657.4,516.4 L659.2,521.9 L659.6,524.0 L660.0,527.3 L660.8,536.9 M676.5,682.1 L678.9,682.4 L679.7,682.4 L680.0,682.2 L681.1,681.3 L682.6,679.2 L686.2,672.0 L689.5,666.2 L692.0,661.2 L694.2,656.5 L696.0,652.1 L698.2,646.4 L700.0,641.1 L702.6,632.6 L705.9,619.9 L708.2,609.8 L711.7,593.0 L715.0,578.4 L717.2,569.3 L720.1,558.1 L723.0,547.9 L725.5,540.1 L728.7,531.2 L732.0,523.5 L733.8,519.7 L736.3,515.0 L738.1,511.9 L739.9,509.2 L741.7,506.9 L744.9,503.4 L747.0,501.3 L749.2,499.6 L750.9,498.5 L752.7,497.7 L755.6,496.6 L758.4,495.8 L762.7,495.0 L770.5,494.2 L772.6,493.9 L773.7,493.6 L775.4,492.7 L777.2,491.4 L779.3,489.4 L781.1,487.4 L782.5,485.0 L784.3,480.8 L785.4,477.6 L786.5,472.9 L789.0,459.6 M797.5,723.3 L798.6,718.3 L801.5,707.5 L802.6,704.6 L803.3,703.4 L804.0,702.7 L807.2,699.8 L810.7,697.2 L814.2,695.2 L815.9,694.5 L818.0,693.8 L820.8,693.1 L823.7,692.8 L827.9,692.5 L837.5,692.2 L841.7,691.9 L843.5,691.6 L845.2,691.1 L849.1,689.5 L852.6,687.7 L859.2,683.9 L865.6,680.4 L882.7,669.7 L897.4,661.4 L903.0,657.7 L908.7,653.3 L914.0,648.6 L919.3,643.4 L924.3,637.9 L927.8,633.5 L932.4,627.0 L943.6,609.7 L962.9,582.0 L971.3,568.3 L973.1,565.8 L977.7,560.3 L979.4,558.3 L980.8,556.9 L982.2,555.9 L983.6,555.3 L984.3,555.1 L985.1,555.2 L985.8,555.7 L987.3,557.0 L988.0,557.3 L988.4,557.2 L989.1,556.4 L989.8,555.0 L992.8,547.6 L993.5,546.4 L994.2,545.6 L995.6,544.2 L997.0,543.0 L1009.0,533.8" fill="none" stroke="#800080" stroke-width="1.9" stroke-linecap="round" stroke-dasharray="0 3.6"/>
<path d="M567.6,700.0 L568.0,697.8 L568.8,691.9 L569.6,684.3 L570.4,675.7 L571.0,664.8 L573.1,625.8 L574.9,598.5 L576.6,574.2 L578.4,554.3 L580.1,537.8 L582.4,521.1 L583.1,517.2 L583.5,516.0 L584.6,513.5 L585.4,512.4 L585.7,512.1 L586.1,512.0 L586.5,512.6 L586.8,514.4 L587.2,517.1 L588.3,530.0 L588.7,540.3 L590.0,600.0 L591.0,660.0 L591.4,677.8 L591.8,687.0 L592.2,686.9 L592.5,686.6 L593.3,685.5 L594.0,684.0 L594.7,681.7 L595.5,678.1 L596.2,673.4 L598.4,657.2 L599.4,647.7 L600.9,633.1 L610.2,530.6 L611.0,525.0 L611.7,520.8 L612.5,517.1 L613.2,514.3 L613.5,513.6 L613.9,513.3 L614.3,513.6 L614.6,514.5 L615.0,515.8 L615.8,519.8 L616.5,525.0 L616.9,529.5 L617.6,546.5 L618.6,579.9 L620.4,630.8 L621.1,648.5 L622.2,666.2 L622.9,675.9 L623.3,679.5 L623.6,681.8 L624.0,682.7 L624.4,682.6 L625.1,682.2 L626.2,681.0 L627.0,680.0 L627.7,678.1 L628.8,673.1 L632.4,651.9 L634.9,636.4 L637.4,619.4 L638.8,608.2 L642.3,577.5 L643.7,566.5 L645.5,555.4 L647.8,544.0 L648.9,539.2 L650.4,533.7 L652.2,527.9 L654.0,522.9 L659.2,510.9 L660.3,508.6 L661.0,507.3 L661.8,506.4 L662.5,505.9 L662.9,505.8 L663.3,505.9 L663.6,506.2 L664.0,506.6 L664.7,508.0 L665.9,511.1 L667.0,515.2 L667.7,518.5 L668.1,520.7 L668.5,523.9 L669.2,532.7 L670.0,545.0 L670.4,555.7 L671.5,600.0 L672.9,644.4 L673.6,658.3 L675.0,675.6 L675.8,681.2 L676.1,682.8 L676.5,683.6 L678.0,684.5 L679.8,685.2 L681.6,685.4 L683.0,685.2 L684.1,684.7 L685.2,684.1 L688.5,681.6 L690.2,679.6 L692.0,677.0 L694.4,672.6 L698.0,665.4 L700.2,660.1 L702.3,654.2 L707.1,639.8 L709.3,632.3 L712.2,621.6 L716.3,605.6 L725.5,567.8 L730.9,547.5 L733.1,540.2 L735.3,533.8 L737.8,526.9 L740.0,521.9 L743.2,515.8 L746.4,510.6 L749.2,506.7 L750.6,505.1 L752.1,503.7 L753.8,502.2 L756.0,500.6 L760.2,497.8 L763.4,496.1 L771.2,492.7 L775.1,490.6 L778.0,488.7 L780.5,486.8 L783.0,484.3 L785.5,481.5 L788.4,477.8 L790.9,474.2 L793.4,469.8 L797.4,461.5 L799.6,456.2 L801.0,451.7 L802.4,445.8 L803.2,441.4 L803.9,435.2 L804.3,434.0 L804.5,757.0 L805.0,752.6 L805.9,739.0 L806.3,734.7 L807.0,731.7 L808.8,725.6 L809.8,722.6 L810.9,720.2 L811.9,718.1 L813.0,716.4 L814.1,715.0 L815.5,713.4 L819.0,710.1 L821.4,708.1 L824.2,706.1 L827.4,704.3 L830.5,702.8 L837.9,699.4 L847.4,694.7 L876.7,680.9 L886.2,676.0 L894.6,671.3 L902.0,666.9 L909.5,661.8 L916.6,656.5 L923.7,650.7 L930.0,644.9 L937.0,637.8 L944.3,629.9 L950.0,623.1 L955.6,615.9 L961.3,608.0 L964.6,603.2 L971.4,592.9 L976.9,585.0 L978.7,582.0 L979.8,580.6 L980.5,580.0 L981.9,579.3 L983.0,579.0 L983.7,578.9 L984.4,579.2 L985.9,580.5 L986.6,580.9 L987.0,581.0 L987.4,580.8 L987.7,580.3 L988.5,578.4 L991.4,566.5 L992.1,564.3 L992.5,563.6 L993.5,562.1 L995.0,560.5 L999.2,556.9 L1000.6,555.5 L1004.1,551.6 L1008.0,547.0" fill="none" stroke="#008080" stroke-width="2.4" stroke-linejoin="round" stroke-linecap="round"/>
<path d="M583.4,521.4 L584.1,517.5 L584.5,516.3 L585.6,513.8 L586.4,512.7 L586.7,512.4 L587.1,512.3 L587.5,512.9 L587.8,514.7 L588.2,517.4 L589.3,530.3 L589.7,540.6 L591.0,600.3 L592.0,660.3 L592.4,678.1 L592.8,687.3 L593.2,687.2 L593.5,686.9 L594.3,685.8 L595.0,684.3 L595.7,682.0 L596.5,678.4 L597.2,673.7 L599.4,657.5 L600.4,648.0 L601.9,633.4 L611.2,530.9 L612.0,525.3 L612.7,521.1 L613.5,517.4 L614.2,514.6 L614.5,513.9 L614.9,513.6 L615.3,513.9 L615.6,514.8 L616.0,516.1 L616.8,520.1 L617.5,525.3 L617.9,529.8 L618.6,546.8 L619.6,580.2 L621.4,631.1 L622.1,648.8 L623.2,666.5 L623.9,676.2 L624.3,679.8 L624.6,682.1 L625.0,683.0 L625.4,682.9 L626.1,682.5 L627.2,681.3 L628.0,680.3 L628.7,678.4 L629.8,673.4 L633.4,652.2 L635.9,636.7 L638.4,619.7 L639.8,608.5 L643.3,577.8 L644.7,566.8 L646.5,555.7 L648.8,544.3 L649.9,539.5 L651.4,534.0 L653.2,528.2 L655.0,523.2 L660.2,511.2 L661.3,508.9 L662.0,507.6 L662.8,506.7 L663.5,506.2 L663.9,506.1 L664.3,506.2 L664.6,506.5 L665.0,506.9 L665.7,508.3 L666.9,511.4 L668.0,515.5 L668.7,518.8 M682.6,685.7 L684.0,685.5 L685.1,685.0 L686.2,684.4 L689.5,681.9 L691.2,679.9 L693.0,677.3 L695.4,672.9 L699.0,665.7 L701.2,660.4 L703.3,654.5 L708.1,640.1 L710.3,632.6 L713.2,621.9 L717.3,605.9 L726.5,568.1 L731.9,547.8 L734.1,540.5 L736.3,534.1 L738.8,527.2 L741.0,522.2 L744.2,516.1 L747.4,510.9 L750.2,507.0 L751.6,505.4 L753.1,504.0 L754.8,502.5 L757.0,500.9 L761.2,498.1 L764.4,496.4 L772.2,493.0 L776.1,490.9 L779.0,489.0 L781.5,487.1 L784.0,484.6 L786.5,481.8 L789.4,478.1 L791.9,474.5 L794.4,470.1 L798.4,461.8 L800.6,456.5 L802.0,452.0 M809.8,725.9 L810.8,722.9 L811.9,720.5 L812.9,718.4 L814.0,716.7 L815.1,715.3 L816.5,713.7 L820.0,710.4 L822.4,708.4 L825.2,706.4 L828.4,704.6 L831.5,703.1 L838.9,699.7 L848.4,695.0 L877.7,681.2 L887.2,676.3 L895.6,671.6 L903.0,667.2 L910.5,662.1 L917.6,656.8 L924.7,651.0 L931.0,645.2 L938.0,638.1 L945.3,630.2 L951.0,623.4 L956.6,616.2 L962.3,608.3 L965.6,603.5 L972.4,593.2 L977.9,585.3 L979.7,582.3 L980.8,580.9 L981.5,580.3 L982.9,579.6 L984.0,579.3 L984.7,579.2 L985.4,579.5 L986.9,580.8 L987.6,581.2 L988.0,581.3 L988.4,581.1 L988.7,580.6 L989.5,578.7 L992.4,566.8 L993.1,564.6 L993.5,563.9 L994.5,562.4 L996.0,560.8 L1000.2,557.2 L1001.6,555.8 L1005.1,551.9 L1009.0,547.3" fill="none" stroke="#008080" stroke-width="1.9" stroke-linecap="round" stroke-dasharray="0 3.6"/>
<path d="M567.6,715.0 L568.1,708.7 L569.0,690.0 L569.8,665.8 L572.6,557.0 L574.5,470.0 L575.2,443.7 L575.6,438.4 L576.3,722.1 L576.7,718.2 L579.6,648.2 L581.1,616.2 L582.6,586.9 L584.9,546.4 L586.0,530.0 L587.2,516.3 L588.0,510.0 L588.9,505.5 L589.3,503.9 L589.7,503.3 L590.1,503.6 L590.4,504.5 L590.8,505.9 L591.5,510.0 L591.9,515.9 L592.2,527.2 L593.0,560.0 L594.5,670.0 L594.9,686.0 L595.2,685.9 L595.6,685.6 L596.3,684.5 L597.0,683.0 L597.8,680.3 L598.9,673.4 L600.4,662.1 L601.8,647.9 L604.6,614.0 L610.0,555.0 L612.2,527.4 L614.0,510.9 L614.8,506.8 L615.1,506.2 L615.5,506.5 L615.9,507.3 L616.7,510.4 L617.5,515.0 L617.9,519.1 L618.6,535.7 L621.4,623.4 L622.1,642.7 L623.6,669.2 L624.4,678.9 L624.7,681.7 L625.1,682.7 L625.8,682.4 L626.9,681.0 L628.4,678.1 L629.5,674.0 L630.5,668.3 L632.7,656.0 L634.1,647.0 L642.3,589.8 L645.6,568.1 L646.7,561.6 L648.5,552.5 L650.3,544.2 L652.4,535.1 L658.8,510.0 L659.9,506.2 L660.6,504.1 L661.3,502.7 L662.0,501.7 L662.7,500.9 L663.8,499.9 L665.2,499.2 L668.5,498.3 L669.2,497.9 L669.6,497.5 L670.0,496.9 L670.4,496.0 L671.2,492.6 L671.6,490.0 L672.2,460.0 L672.4,440.3 L672.6,738.0 L673.0,728.9 L673.9,706.6 L674.2,699.0 L674.6,695.3 L675.7,693.3 L676.8,692.0 L677.9,691.3 L680.1,690.1 L681.9,688.8 L685.6,686.6 L687.0,685.6 L688.8,684.1 L690.9,681.7 L694.1,677.2 L697.6,671.3 L700.2,666.0 L702.7,659.9 L705.6,652.1 L707.4,646.6 L709.6,639.1 L712.2,629.7 L722.7,587.2 L727.7,566.1 L731.7,551.2 L733.8,543.8 L735.7,538.3 L738.5,530.5 L740.9,524.4 L742.3,521.4 L744.5,517.2 L746.6,513.4 L748.4,510.4 L751.6,505.8 L753.0,504.1 L755.2,501.7 L759.1,498.0 L763.8,494.4 L766.3,492.7 L776.9,486.4 L779.0,485.0 L781.6,483.0 L784.8,480.2 L787.7,477.3 L790.9,473.5 L793.4,470.3 L795.2,467.6 L796.6,465.0 L798.0,462.0 L799.1,459.0 L800.5,453.8 L802.3,446.0 L803.8,436.4 L804.1,434.7 L804.5,434.0 L804.7,757.0 L805.1,755.2 L806.0,748.0 L807.1,742.6 L808.3,738.7 L810.8,733.0 L813.5,727.7 L814.9,725.5 L816.7,723.0 L820.2,718.6 L825.5,712.8 L829.7,708.8 L834.3,705.0 L839.6,701.2 L844.6,698.2 L850.5,695.0 L862.1,689.4 L875.6,683.3 L880.6,681.0 L890.4,675.8 L898.1,671.3 L903.4,667.9 L908.7,664.1 L914.4,659.6 L920.5,654.4 L926.1,649.2 L932.1,643.2 L938.7,636.0 L945.8,627.9 L950.8,621.8 L956.4,614.4 L963.9,604.4 L968.4,598.0 L970.6,595.3 L976.4,588.5 L979.6,583.8 L981.1,582.0 L981.8,581.4 L982.5,581.0 L983.7,580.6 L984.5,580.5 L984.9,580.7 L985.2,581.3 L986.3,583.6 L986.6,584.2 L987.0,584.4 L987.4,584.1 L987.8,583.4 L988.5,581.0 L991.8,567.8 L992.1,566.6 L992.9,565.2 L993.9,563.6 L995.4,562.0 L999.6,558.3 L1004.0,554.1 L1008.0,550.5" fill="none" stroke="#ff8000" stroke-width="2.4" stroke-linejoin="round" stroke-linecap="round"/>
<path d="M580.6,648.5 L582.1,616.5 L583.6,587.2 L585.9,546.7 L587.0,530.3 L588.2,516.6 L589.0,510.3 L589.9,505.8 L590.3,504.2 L590.7,503.6 L591.1,503.9 L591.4,504.8 L591.8,506.2 L592.5,510.3 L592.9,516.2 L593.2,527.5 L594.0,560.3 L595.5,670.3 L595.9,686.3 L596.2,686.2 L596.6,685.9 L597.3,684.8 L598.0,683.3 L598.8,680.6 L599.9,673.7 L601.4,662.4 L602.8,648.2 L605.6,614.3 L611.0,555.3 L613.2,527.7 L615.0,511.2 L615.8,507.1 L616.1,506.5 L616.5,506.8 L616.9,507.6 L617.7,510.7 L618.5,515.3 L618.9,519.4 L619.6,536.0 L622.4,623.7 L623.1,643.0 L624.6,669.5 L625.4,679.2 L625.7,682.0 L626.1,683.0 L626.8,682.7 L627.9,681.3 L629.4,678.4 L630.5,674.3 L631.5,668.6 L633.7,656.3 L635.1,647.3 L643.3,590.1 L646.6,568.4 L647.7,561.9 L649.5,552.8 L651.3,544.5 L653.4,535.4 L659.8,510.3 L660.9,506.5 L661.6,504.4 L662.3,503.0 L663.0,502.0 L663.7,501.2 L664.8,500.2 L666.2,499.5 L669.5,498.6 L670.2,498.2 L670.6,497.8 L671.0,497.2 M677.8,692.3 L678.9,691.6 L681.1,690.4 L682.9,689.1 L686.6,686.9 L688.0,685.9 L689.8,684.4 L691.9,682.0 L695.1,677.5 L698.6,671.6 L701.2,666.3 L703.7,660.2 L706.6,652.4 L708.4,646.9 L710.6,639.4 L713.2,630.0 L723.7,587.5 L728.7,566.4 L732.7,551.5 L734.8,544.1 L736.7,538.6 L739.5,530.8 L741.9,524.7 L743.3,521.7 L745.5,517.5 L747.6,513.7 L749.4,510.7 L752.6,506.1 L754.0,504.4 L756.2,502.0 L760.1,498.3 L764.8,494.7 L767.3,493.0 L777.9,486.7 L780.0,485.3 L782.6,483.3 L785.8,480.5 L788.7,477.6 L791.9,473.8 L794.4,470.6 L796.2,467.9 L797.6,465.3 L799.0,462.3 L800.1,459.3 L801.5,454.1 M809.3,739.0 L811.8,733.3 L814.5,728.0 L815.9,725.8 L817.7,723.3 L821.2,718.9 L826.5,713.1 L830.7,709.1 L835.3,705.3 L840.6,701.5 L845.6,698.5 L851.5,695.3 L863.1,689.7 L876.6,683.6 L881.6,681.3 L891.4,676.1 L899.1,671.6 L904.4,668.2 L909.7,664.4 L915.4,659.9 L921.5,654.7 L927.1,649.5 L933.1,643.5 L939.7,636.3 L946.8,628.2 L951.8,622.1 L957.4,614.7 L964.9,604.7 L969.4,598.3 L971.6,595.6 L977.4,588.8 L980.6,584.1 L982.1,582.3 L982.8,581.7 L983.5,581.3 L984.7,580.9 L985.5,580.8 L985.9,581.0 L986.2,581.6 L987.3,583.9 L987.6,584.5 L988.0,584.7 L988.4,584.4 L988.8,583.7 L989.5,581.3 L992.8,568.1 L993.1,566.9 L993.9,565.5 L994.9,563.9 L996.4,562.3 L1000.6,558.6 L1005.0,554.4 L1009.0,550.8" fill="none" stroke="#ff8000" stroke-width="1.9" stroke-linecap="round" stroke-dasharray="0 3.6"/>
<path d="M567.6,610.0 L568.7,581.8 L569.9,547.3 L571.5,490.0 L572.6,443.3 L573.0,437.6 L573.4,740.7 L573.8,736.9 L574.5,720.0 L576.9,672.0 L581.5,560.0 L582.9,522.3 L583.3,515.0 L584.1,502.9 L584.5,498.3 L585.5,490.0 L586.1,471.2 L586.6,722.1 L587.3,690.0 L587.7,684.5 L589.0,675.0 L590.1,662.7 L596.0,590.0 L597.5,574.6 L602.5,525.1 L603.1,519.8 L603.5,518.0 L605.4,510.6 L606.1,508.6 L606.8,507.5 L607.2,507.3 L607.6,507.6 L608.0,508.3 L608.7,511.0 L609.5,515.0 L609.9,519.4 L610.7,537.0 L611.5,560.0 L613.1,627.9 L613.5,640.0 L614.6,662.9 L615.3,674.8 L615.7,679.0 L616.0,681.7 L616.4,682.7 L616.8,682.6 L617.1,682.2 L617.9,680.8 L619.4,676.9 L620.4,672.4 L621.5,666.4 L624.4,647.7 L625.8,637.7 L635.0,566.7 L636.1,559.6 L638.3,546.8 L641.5,529.6 L643.6,520.0 L646.2,510.2 L647.6,505.8 L650.2,500.5 L651.3,498.9 L652.0,498.2 L652.3,498.0 L653.1,497.9 L653.8,498.1 L656.0,499.1 L657.0,499.5 L657.4,499.5 L657.8,499.3 L658.1,498.7 L658.8,495.7 L659.5,490.0 L659.8,476.0 L660.2,729.3 L661.0,683.6 L661.7,683.7 L662.8,684.3 L665.7,686.6 L667.1,687.4 L668.2,687.5 L668.9,687.2 L669.6,686.7 L670.7,685.6 L671.8,684.3 L674.1,681.3 L675.0,679.7 L677.9,673.9 L681.2,666.2 L683.4,660.2 L686.3,651.5 L688.5,644.2 L691.4,634.0 L696.2,616.0 L706.7,575.4 L711.7,557.3 L713.9,550.0 L716.1,543.2 L718.2,537.0 L720.4,531.5 L723.9,523.3 L727.4,516.0 L730.3,511.0 L734.2,505.0 L737.8,500.1 L741.8,495.2 L750.3,485.9 L756.0,479.5 L759.2,475.8 L763.1,470.5 L767.4,463.8 L771.0,457.4 L774.5,450.3 L775.5,447.9 L776.2,446.0 L776.6,444.5 L778.2,435.9 L778.6,434.5 L779.0,434.0 L779.3,757.0 L779.7,755.9 L781.0,748.0 L782.1,743.4 L784.0,736.6 L785.5,732.4 L787.3,728.7 L789.8,724.6 L792.6,720.8 L795.8,717.3 L800.1,713.1 L803.6,710.0 L807.8,706.6 L812.4,703.2 L817.7,699.6 L824.4,695.4 L828.3,693.1 L839.6,687.0 L850.9,680.3 L858.6,675.4 L865.7,670.5 L872.1,665.8 L878.5,660.6 L884.1,655.7 L889.7,650.3 L895.7,644.2 L902.4,636.8 L907.0,631.3 L913.0,623.6 L923.7,609.3 L938.6,588.5 L949.1,574.2 L954.4,567.5 L958.7,562.2 L961.9,558.5 L967.5,552.3 L970.7,549.1 L977.7,542.7 L979.5,541.2 L980.9,540.3 L982.3,539.7 L983.7,539.5 L984.4,539.8 L985.9,541.1 L986.6,541.6 L987.0,541.7 L987.7,541.4 L988.8,540.3 L990.7,537.9 L994.0,531.7 L994.7,530.8 L995.8,529.8 L999.4,526.9 L1002.2,525.1 L1003.7,524.4 L1005.1,523.9 L1006.6,523.6 L1008.0,523.5" fill="none" stroke="#8000ff" stroke-width="2.4" stroke-linejoin="round" stroke-linecap="round"/>
<path d="M590.0,675.3 L591.1,663.0 L597.0,590.3 L598.5,574.9 L603.5,525.4 L604.1,520.1 L604.5,518.3 L606.4,510.9 L607.1,508.9 L607.8,507.8 L608.2,507.6 L608.6,507.9 L609.0,508.6 L609.7,511.3 L610.5,515.3 L610.9,519.7 L611.7,537.3 L612.5,560.3 L614.1,628.2 L614.5,640.3 L615.6,663.2 L616.3,675.1 L616.7,679.3 L617.0,682.0 L617.4,683.0 L617.8,682.9 L618.1,682.5 L618.9,681.1 L620.4,677.2 L621.4,672.7 L622.5,666.7 L625.4,648.0 L626.8,638.0 L636.0,567.0 L637.1,559.9 L639.3,547.1 L642.5,529.9 L644.6,520.3 L647.2,510.5 L648.6,506.1 L651.2,500.8 L652.3,499.2 L653.0,498.5 L653.3,498.3 L654.1,498.2 L654.8,498.4 L657.0,499.4 L658.0,499.8 L658.4,499.8 L658.8,499.6 M663.8,684.6 L666.7,686.9 L668.1,687.7 L669.2,687.8 L669.9,687.5 L670.6,687.0 L671.7,685.9 L672.8,684.6 L675.1,681.6 L676.0,680.0 L678.9,674.2 L682.2,666.5 L684.4,660.5 L687.3,651.8 L689.5,644.5 L692.4,634.3 L697.2,616.3 L707.7,575.7 L712.7,557.6 L714.9,550.3 L717.1,543.5 L719.2,537.3 L721.4,531.8 L724.9,523.6 L728.4,516.3 L731.3,511.3 L735.2,505.3 L738.8,500.4 L742.8,495.5 L751.3,486.2 L757.0,479.8 L760.2,476.1 L764.1,470.8 L768.4,464.1 L772.0,457.7 L775.5,450.6 L776.5,448.2 L777.2,446.3 L777.6,444.8 M785.0,736.9 L786.5,732.7 L788.3,729.0 L790.8,724.9 L793.6,721.1 L796.8,717.6 L801.1,713.4 L804.6,710.3 L808.8,706.9 L813.4,703.5 L818.7,699.9 L825.4,695.7 L829.3,693.4 L840.6,687.3 L851.9,680.6 L859.6,675.7 L866.7,670.8 L873.1,666.1 L879.5,660.9 L885.1,656.0 L890.7,650.6 L896.7,644.5 L903.4,637.1 L908.0,631.6 L914.0,623.9 L924.7,609.6 L939.6,588.8 L950.1,574.5 L955.4,567.8 L959.7,562.5 L962.9,558.8 L968.5,552.6 L971.7,549.4 L978.7,543.0 L980.5,541.5 L981.9,540.6 L983.3,540.0 L984.7,539.8 L985.4,540.1 L986.9,541.4 L987.6,541.9 L988.0,542.0 L988.7,541.7 L989.8,540.6 L991.7,538.2 L995.0,532.0 L995.7,531.1 L996.8,530.1 L1000.4,527.2 L1003.2,525.4 L1004.7,524.7 L1006.1,524.2 L1007.6,523.9 L1009.0,523.8" fill="none" stroke="#8000ff" stroke-width="1.9" stroke-linecap="round" stroke-dasharray="0 3.6"/>
<circle cx="673.2" cy="741.5" r="1.25" fill="#ff8000"/>
<circle cx="673.2" cy="745.2" r="1.25" fill="#ff8000"/>
<circle cx="673.2" cy="748.9" r="1.25" fill="#ff8000"/>
<circle cx="673.2" cy="752.3" r="1.25" fill="#ff8000"/>
<circle cx="660" cy="477" r="1.25" fill="#8000ff"/>
<circle cx="660" cy="480.6" r="1.25" fill="#8000ff"/>
<circle cx="660" cy="484.2" r="1.25" fill="#8000ff"/>
</g>
<text x="13.00" y="20.60" font-size="14.6" font-weight="bold" text-anchor="start" textLength="17.6" lengthAdjust="spacingAndGlyphs" >(a)</text>
<text x="489.90" y="22.70" font-size="14.6" font-weight="bold" text-anchor="start" textLength="17.7" lengthAdjust="spacingAndGlyphs" >(b)</text>
<text x="18.70" y="427.90" font-size="14.6" font-weight="bold" text-anchor="start" textLength="17.1" lengthAdjust="spacingAndGlyphs" >(c)</text>
<text x="501.30" y="427.90" font-size="14.6" font-weight="bold" text-anchor="start" textLength="18.0" lengthAdjust="spacingAndGlyphs" >(d)</text>
<text x="203.80" y="400.80" font-size="19.5" font-weight="bold" text-anchor="start" textLength="156.6" lengthAdjust="spacingAndGlyphs" >Wavelength [nm]</text>
<text x="705.30" y="400.80" font-size="19.5" font-weight="bold" text-anchor="start" textLength="156.2" lengthAdjust="spacingAndGlyphs" >Wavelength [nm]</text>
<text x="211.20" y="808.80" font-size="19.5" font-weight="bold" text-anchor="start" textLength="155.4" lengthAdjust="spacingAndGlyphs" >Wavelength [nm]</text>
<text x="710.20" y="808.80" font-size="19.5" font-weight="bold" text-anchor="start" textLength="155.4" lengthAdjust="spacingAndGlyphs" >Wavelength [nm]</text>
<text transform="translate(31.60,194.90) rotate(-90)" font-size="16" font-weight="bold">Psi <tspan font-weight="normal" font-family="Liberation Serif" font-size="19">ψ</tspan></text>
<text transform="translate(35.40,603.80) rotate(-90)" font-size="16" font-weight="bold">Psi <tspan font-weight="normal" font-family="Liberation Serif" font-size="19">ψ</tspan></text>
<text transform="translate(507.30,231.20) rotate(-90)" font-size="16" font-weight="bold">Delta <tspan font-weight="normal">Δ</tspan>&#160; [deg.]</text>
<text transform="translate(521.80,636.40) rotate(-90)" font-size="16" font-weight="bold">Delta <tspan font-weight="normal">Δ</tspan> [deg.]</text>
<text x="347.1" y="18.4" font-size="11" textLength="57.4" lengthAdjust="spacingAndGlyphs" stroke="#222" stroke-width="0.3">SiO<tspan dy="3.4">2</tspan><tspan dy="-3.4">:HfO</tspan><tspan dy="3.4">2</tspan></text>
<text x="415.9" y="19.8" font-size="10" textLength="40.2" lengthAdjust="spacingAndGlyphs" stroke="#222" stroke-width="0.3">AOI:70°</text>
<text x="844.3" y="18.0" font-size="11" textLength="57.4" lengthAdjust="spacingAndGlyphs" stroke="#222" stroke-width="0.3">SiO<tspan dy="3.4">2</tspan><tspan dy="-3.4">:HfO</tspan><tspan dy="3.4">2</tspan></text>
<text x="913.6" y="19.4" font-size="10" textLength="40.2" lengthAdjust="spacingAndGlyphs" stroke="#222" stroke-width="0.3">AOI:70°</text>
<text x="354.8" y="430.3" font-size="10" textLength="50.4" lengthAdjust="spacingAndGlyphs" stroke="#222" stroke-width="0.3">SiO<tspan dy="3.4">2</tspan><tspan dy="-3.4">:HfO</tspan><tspan dy="3.4">2</tspan></text>
<text x="423.3" y="429.0" font-size="10.2" textLength="35.5" lengthAdjust="spacingAndGlyphs" stroke="#222" stroke-width="0.3">AOI:70°</text>
<text x="846.4" y="425.7" font-size="10" textLength="50.0" lengthAdjust="spacingAndGlyphs" stroke="#222" stroke-width="0.3">SiO<tspan dy="3.4">2</tspan><tspan dy="-3.4">:HfO</tspan><tspan dy="3.4">2</tspan></text>
<text x="916.8" y="426.5" font-size="10.2" textLength="35.1" lengthAdjust="spacingAndGlyphs" stroke="#222" stroke-width="0.3">AOI:70°</text>
<rect x="346.4" y="26.4" width="137.20000000000005" height="156.5" fill="#fff" stroke="#555" stroke-width="1.1"/>
<line x1="348.6" y1="37.6" x2="383.0" y2="37.6" stroke="#00ff00" stroke-width="2.6" stroke-linecap="round"/>
<text x="391.90" y="42.90" font-size="15.2" font-weight="normal" text-anchor="start" textLength="79.1" lengthAdjust="spacingAndGlyphs" stroke="#111" stroke-width="0.4">(4:2_Meas)</text>
<line x1="348.3" y1="56.7" x2="379.80" y2="56.7" stroke="#00ff00" stroke-width="2.6" stroke-linecap="round" stroke-dasharray="0 5.233"/>
<text x="391.90" y="62.00" font-size="15.2" font-weight="normal" text-anchor="start" textLength="70.0" lengthAdjust="spacingAndGlyphs" stroke="#111" stroke-width="0.4">(4:2_Sim)</text>
<line x1="348.6" y1="76.3" x2="383.0" y2="76.3" stroke="#0000ff" stroke-width="2.6" stroke-linecap="round"/>
<text x="391.90" y="81.60" font-size="15.2" font-weight="normal" text-anchor="start" textLength="79.1" lengthAdjust="spacingAndGlyphs" stroke="#111" stroke-width="0.4">(4:4_Meas)</text>
<line x1="348.3" y1="95.5" x2="379.80" y2="95.5" stroke="#0000ff" stroke-width="2.6" stroke-linecap="round" stroke-dasharray="0 5.233"/>
<text x="391.90" y="100.80" font-size="15.2" font-weight="normal" text-anchor="start" textLength="70.0" lengthAdjust="spacingAndGlyphs" stroke="#111" stroke-width="0.4">(4:4_Sim)</text>
<line x1="348.6" y1="114.89999999999999" x2="383.0" y2="114.89999999999999" stroke="#ff00ff" stroke-width="2.6" stroke-linecap="round"/>
<text x="391.90" y="120.20" font-size="15.2" font-weight="normal" text-anchor="start" textLength="79.1" lengthAdjust="spacingAndGlyphs" stroke="#111" stroke-width="0.4">(4:8_Meas)</text>
<line x1="348.3" y1="134.29999999999998" x2="379.80" y2="134.29999999999998" stroke="#ff00ff" stroke-width="2.6" stroke-linecap="round" stroke-dasharray="0 5.233"/>
<text x="391.90" y="139.60" font-size="15.2" font-weight="normal" text-anchor="start" textLength="70.0" lengthAdjust="spacingAndGlyphs" stroke="#111" stroke-width="0.4">(4:8_Sim)</text>
<line x1="348.6" y1="153.7" x2="383.0" y2="153.7" stroke="#808000" stroke-width="2.6" stroke-linecap="round"/>
<text x="391.90" y="159.00" font-size="15.2" font-weight="normal" text-anchor="start" textLength="89.4" lengthAdjust="spacingAndGlyphs" stroke="#111" stroke-width="0.4">(4:16_Meas)</text>
<line x1="348.3" y1="172.9" x2="379.80" y2="172.9" stroke="#808000" stroke-width="2.6" stroke-linecap="round" stroke-dasharray="0 5.233"/>
<text x="391.90" y="178.20" font-size="15.2" font-weight="normal" text-anchor="start" textLength="80.0" lengthAdjust="spacingAndGlyphs" stroke="#111" stroke-width="0.4">(4:16_Sim)</text>
<rect x="833.2" y="23.6" width="137.0" height="156.1" fill="#fff" stroke="#555" stroke-width="1.1"/>
<line x1="835.6999999999999" y1="35.2" x2="870.0" y2="35.2" stroke="#00ff00" stroke-width="2.6" stroke-linecap="round"/>
<text x="879.40" y="40.50" font-size="15.2" font-weight="normal" text-anchor="start" textLength="79.1" lengthAdjust="spacingAndGlyphs" stroke="#111" stroke-width="0.4">(4:2_Meas)</text>
<line x1="835.4" y1="54.9" x2="866.80" y2="54.9" stroke="#00ff00" stroke-width="2.6" stroke-linecap="round" stroke-dasharray="0 5.217"/>
<text x="879.40" y="60.20" font-size="15.2" font-weight="normal" text-anchor="start" textLength="70.0" lengthAdjust="spacingAndGlyphs" stroke="#111" stroke-width="0.4">(4:2_Sim)</text>
<line x1="835.6999999999999" y1="74.0" x2="870.0" y2="74.0" stroke="#0000ff" stroke-width="2.6" stroke-linecap="round"/>
<text x="879.40" y="79.30" font-size="15.2" font-weight="normal" text-anchor="start" textLength="79.1" lengthAdjust="spacingAndGlyphs" stroke="#111" stroke-width="0.4">(4:4_Meas)</text>
<line x1="835.4" y1="93.39999999999999" x2="866.80" y2="93.39999999999999" stroke="#0000ff" stroke-width="2.6" stroke-linecap="round" stroke-dasharray="0 5.217"/>
<text x="879.40" y="98.70" font-size="15.2" font-weight="normal" text-anchor="start" textLength="70.0" lengthAdjust="spacingAndGlyphs" stroke="#111" stroke-width="0.4">(4:4_Sim)</text>
<line x1="835.6999999999999" y1="112.8" x2="870.0" y2="112.8" stroke="#ff00ff" stroke-width="2.6" stroke-linecap="round"/>
<text x="879.40" y="118.10" font-size="15.2" font-weight="normal" text-anchor="start" textLength="79.1" lengthAdjust="spacingAndGlyphs" stroke="#111" stroke-width="0.4">(4:8_Meas)</text>
<line x1="835.4" y1="132.0" x2="866.80" y2="132.0" stroke="#ff00ff" stroke-width="2.6" stroke-linecap="round" stroke-dasharray="0 5.217"/>
<text x="879.40" y="137.30" font-size="15.2" font-weight="normal" text-anchor="start" textLength="70.0" lengthAdjust="spacingAndGlyphs" stroke="#111" stroke-width="0.4">(4:8_Sim)</text>
<line x1="835.6999999999999" y1="151.2" x2="870.0" y2="151.2" stroke="#808000" stroke-width="2.6" stroke-linecap="round"/>
<text x="879.40" y="156.50" font-size="15.2" font-weight="normal" text-anchor="start" textLength="89.4" lengthAdjust="spacingAndGlyphs" stroke="#111" stroke-width="0.4">(4:16_Meas)</text>
<line x1="835.4" y1="170.6" x2="866.80" y2="170.6" stroke="#808000" stroke-width="2.6" stroke-linecap="round" stroke-dasharray="0 5.217"/>
<text x="879.40" y="175.90" font-size="15.2" font-weight="normal" text-anchor="start" textLength="80.0" lengthAdjust="spacingAndGlyphs" stroke="#111" stroke-width="0.4">(4:16_Sim)</text>
<rect x="351.5" y="438.8" width="119.0" height="147.2" fill="#fff" stroke="#555" stroke-width="1.1"/>
<line x1="353.90000000000003" y1="450.1" x2="385.4" y2="450.1" stroke="#800080" stroke-width="2.6" stroke-linecap="round"/>
<text x="394.40" y="455.40" font-size="14.6" font-weight="normal" text-anchor="start" textLength="65.0" lengthAdjust="spacingAndGlyphs" stroke="#111" stroke-width="0.4">8:2_Meas</text>
<line x1="353.6" y1="468.40000000000003" x2="382.20" y2="468.40000000000003" stroke="#800080" stroke-width="2.6" stroke-linecap="round" stroke-dasharray="0 4.750"/>
<text x="394.40" y="473.70" font-size="14.6" font-weight="normal" text-anchor="start" textLength="56.0" lengthAdjust="spacingAndGlyphs" stroke="#111" stroke-width="0.4">8:2_Sim</text>
<line x1="353.90000000000003" y1="486.40000000000003" x2="385.4" y2="486.40000000000003" stroke="#008080" stroke-width="2.6" stroke-linecap="round"/>
<text x="394.40" y="491.70" font-size="14.6" font-weight="normal" text-anchor="start" textLength="65.0" lengthAdjust="spacingAndGlyphs" stroke="#111" stroke-width="0.4">8:4_Meas</text>
<line x1="353.6" y1="504.40000000000003" x2="382.20" y2="504.40000000000003" stroke="#008080" stroke-width="2.6" stroke-linecap="round" stroke-dasharray="0 4.750"/>
<text x="394.40" y="509.70" font-size="14.6" font-weight="normal" text-anchor="start" textLength="56.0" lengthAdjust="spacingAndGlyphs" stroke="#111" stroke-width="0.4">8:4_Sim</text>
<line x1="353.90000000000003" y1="522.5" x2="385.4" y2="522.5" stroke="#ff8000" stroke-width="2.6" stroke-linecap="round"/>
<text x="394.40" y="527.80" font-size="14.6" font-weight="normal" text-anchor="start" textLength="65.0" lengthAdjust="spacingAndGlyphs" stroke="#111" stroke-width="0.4">8:8_Meas</text>
<line x1="353.6" y1="540.8000000000001" x2="382.20" y2="540.8000000000001" stroke="#ff8000" stroke-width="2.6" stroke-linecap="round" stroke-dasharray="0 4.750"/>
<text x="394.40" y="546.10" font-size="14.6" font-weight="normal" text-anchor="start" textLength="56.0" lengthAdjust="spacingAndGlyphs" stroke="#111" stroke-width="0.4">8:8_Sim</text>
<line x1="353.90000000000003" y1="558.8000000000001" x2="385.4" y2="558.8000000000001" stroke="#8000ff" stroke-width="2.6" stroke-linecap="round"/>
<text x="394.40" y="564.10" font-size="14.6" font-weight="normal" text-anchor="start" textLength="72.8" lengthAdjust="spacingAndGlyphs" stroke="#111" stroke-width="0.4">8:16_Meas</text>
<line x1="353.6" y1="576.9" x2="382.20" y2="576.9" stroke="#8000ff" stroke-width="2.6" stroke-linecap="round" stroke-dasharray="0 4.750"/>
<text x="394.40" y="582.20" font-size="14.6" font-weight="normal" text-anchor="start" textLength="64.0" lengthAdjust="spacingAndGlyphs" stroke="#111" stroke-width="0.4">8:16_Sim</text>
<rect x="822.2" y="433.8" width="118.89999999999998" height="147.2" fill="#fff" stroke="#555" stroke-width="1.1"/>
<line x1="824.5999999999999" y1="444.90000000000003" x2="856.7" y2="444.90000000000003" stroke="#800080" stroke-width="2.6" stroke-linecap="round"/>
<text x="865.20" y="450.20" font-size="14.6" font-weight="normal" text-anchor="start" textLength="65.0" lengthAdjust="spacingAndGlyphs" stroke="#111" stroke-width="0.4">8:2_Meas</text>
<line x1="824.3" y1="463.1" x2="853.50" y2="463.1" stroke="#800080" stroke-width="2.6" stroke-linecap="round" stroke-dasharray="0 4.850"/>
<text x="865.20" y="468.40" font-size="14.6" font-weight="normal" text-anchor="start" textLength="56.0" lengthAdjust="spacingAndGlyphs" stroke="#111" stroke-width="0.4">8:2_Sim</text>
<line x1="824.5999999999999" y1="481.20000000000005" x2="856.7" y2="481.20000000000005" stroke="#008080" stroke-width="2.6" stroke-linecap="round"/>
<text x="865.20" y="486.50" font-size="14.6" font-weight="normal" text-anchor="start" textLength="65.0" lengthAdjust="spacingAndGlyphs" stroke="#111" stroke-width="0.4">8:4_Meas</text>
<line x1="824.3" y1="499.40000000000003" x2="853.50" y2="499.40000000000003" stroke="#008080" stroke-width="2.6" stroke-linecap="round" stroke-dasharray="0 4.850"/>
<text x="865.20" y="504.70" font-size="14.6" font-weight="normal" text-anchor="start" textLength="56.0" lengthAdjust="spacingAndGlyphs" stroke="#111" stroke-width="0.4">8:4_Sim</text>
<line x1="824.5999999999999" y1="517.7" x2="856.7" y2="517.7" stroke="#ff8000" stroke-width="2.6" stroke-linecap="round"/>
<text x="865.20" y="523.00" font-size="14.6" font-weight="normal" text-anchor="start" textLength="65.0" lengthAdjust="spacingAndGlyphs" stroke="#111" stroke-width="0.4">8:8_Meas</text>
<line x1="824.3" y1="535.9" x2="853.50" y2="535.9" stroke="#ff8000" stroke-width="2.6" stroke-linecap="round" stroke-dasharray="0 4.850"/>
<text x="865.20" y="541.20" font-size="14.6" font-weight="normal" text-anchor="start" textLength="56.0" lengthAdjust="spacingAndGlyphs" stroke="#111" stroke-width="0.4">8:8_Sim</text>
<line x1="824.5999999999999" y1="554.0" x2="856.7" y2="554.0" stroke="#8000ff" stroke-width="2.6" stroke-linecap="round"/>
<text x="865.20" y="559.30" font-size="14.6" font-weight="normal" text-anchor="start" textLength="72.8" lengthAdjust="spacingAndGlyphs" stroke="#111" stroke-width="0.4">8:16_Meas</text>
<line x1="824.3" y1="572.3000000000001" x2="853.50" y2="572.3000000000001" stroke="#8000ff" stroke-width="2.6" stroke-linecap="round" stroke-dasharray="0 4.850"/>
<text x="865.20" y="577.60" font-size="14.6" font-weight="normal" text-anchor="start" textLength="64.0" lengthAdjust="spacingAndGlyphs" stroke="#111" stroke-width="0.4">8:16_Sim</text>
</svg></body></html>
